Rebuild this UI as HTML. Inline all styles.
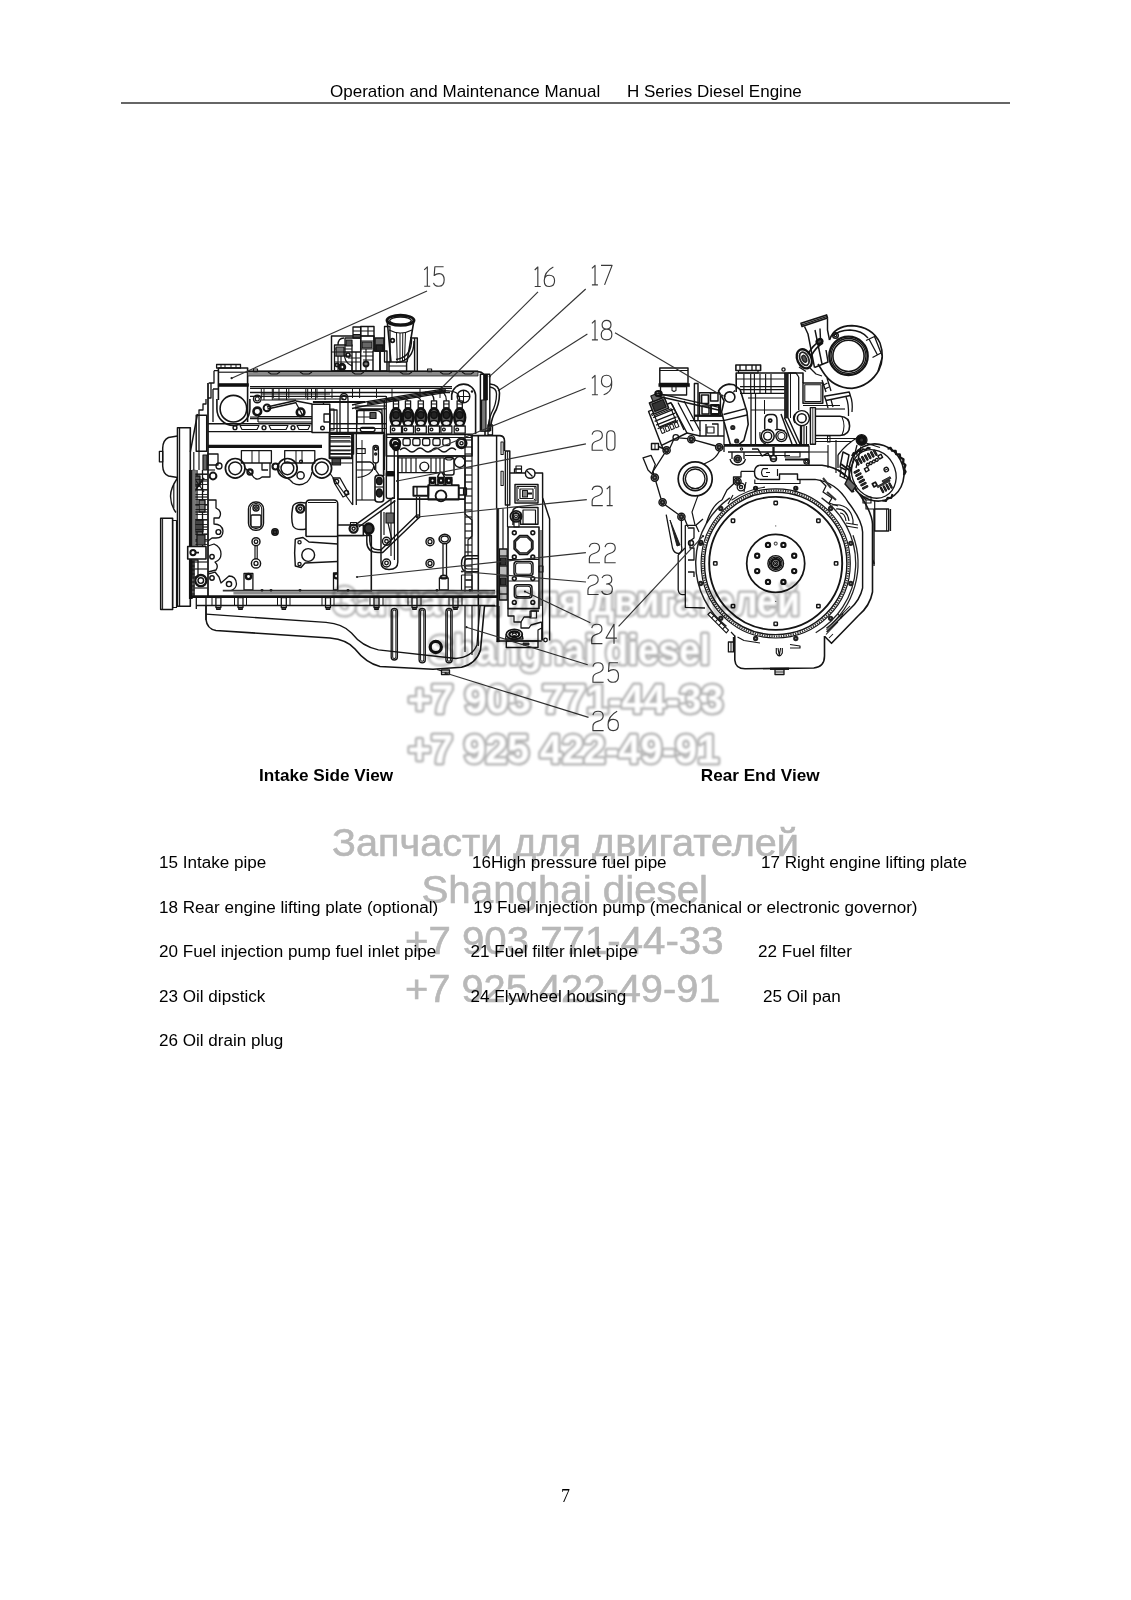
<!DOCTYPE html>
<html><head><meta charset="utf-8">
<style>
html,body{margin:0;padding:0;background:#fff;}
body{width:1131px;height:1600px;position:relative;overflow:hidden;font-family:"Liberation Sans",sans-serif;color:#000;}
.t{position:absolute;white-space:pre;font-size:17px;line-height:20px;}
.b{font-weight:bold;font-size:17.15px;}
.p{font-size:17.09px;}
#hl{position:absolute;left:121px;top:101.6px;width:889px;height:2px;background:#666;}
#art{position:absolute;left:0;top:0;}
.wm2{position:absolute;white-space:pre;color:#b4b4b4;font-size:40px;line-height:44px;}
</style></head><body>
<div class="t" id="h1" style="left:330px;top:81.6px;">Operation and Maintenance Manual</div>
<div class="t" id="h2" style="left:627px;top:81.6px;">H Series Diesel Engine</div>
<div id="hl"></div>

<svg id="art" width="1131" height="1600" viewBox="0 0 1131 1600" fill="none" stroke-linecap="butt" stroke-linejoin="round">
<rect x="177.5" y="427.7" width="12.8" height="178.5" rx="0" stroke="#141414" stroke-width="1.59" fill="none"/>
<line x1="179.6" y1="428.0" x2="179.6" y2="606.0" stroke="#141414" stroke-width="1.16"/>
<path d="M177.5,436 L168.5,437.5 Q163,440 162.7,448 L162.7,466 Q163,474 168.5,476 L177.5,477.5" stroke="#141414" stroke-width="1.45" fill="none" />
<rect x="159.4" y="451.3" width="3.3" height="10.5" rx="0" stroke="#141414" stroke-width="1.30" fill="none"/>
<path d="M177.5,478 Q170,489 170.6,497 Q171,506 176,512.5" stroke="#141414" stroke-width="1.45" fill="none" />
<line x1="173.8" y1="485.0" x2="173.8" y2="508.0" stroke="#141414" stroke-width="1.16"/>
<rect x="160.7" y="518.3" width="11.9" height="91.2" rx="0" stroke="#141414" stroke-width="1.59" fill="none"/>
<rect x="172.6" y="520.5" width="3.9" height="87.0" rx="0" stroke="#141414" stroke-width="1.16" fill="none"/>
<line x1="162.6" y1="519.0" x2="162.6" y2="609.0" stroke="#141414" stroke-width="1.01"/>
<line x1="190.8" y1="470.0" x2="190.8" y2="599.0" stroke="#111" stroke-width="3.77"/>
<rect x="196.2" y="415.2" width="10.5" height="36.1" rx="0" stroke="#141414" stroke-width="1.45" fill="none"/>
<line x1="190.3" y1="452.0" x2="197.5" y2="414.0" stroke="#141414" stroke-width="1.45"/>
<line x1="193.8" y1="452.0" x2="193.8" y2="470.0" stroke="#141414" stroke-width="1.16"/>
<line x1="199.0" y1="452.0" x2="199.0" y2="470.0" stroke="#141414" stroke-width="1.16"/>
<line x1="192.5" y1="474.0" x2="207.5" y2="474.0" stroke="#141414" stroke-width="1.16"/>
<line x1="192.5" y1="481.0" x2="207.5" y2="481.0" stroke="#141414" stroke-width="1.16"/>
<line x1="192.5" y1="490.0" x2="207.5" y2="490.0" stroke="#141414" stroke-width="1.16"/>
<line x1="192.5" y1="497.0" x2="207.5" y2="497.0" stroke="#141414" stroke-width="1.16"/>
<line x1="192.5" y1="505.0" x2="207.5" y2="505.0" stroke="#141414" stroke-width="1.16"/>
<line x1="192.5" y1="512.0" x2="207.5" y2="512.0" stroke="#141414" stroke-width="1.16"/>
<line x1="192.5" y1="520.0" x2="207.5" y2="520.0" stroke="#141414" stroke-width="1.16"/>
<line x1="192.5" y1="527.0" x2="207.5" y2="527.0" stroke="#141414" stroke-width="1.16"/>
<line x1="192.5" y1="534.0" x2="207.5" y2="534.0" stroke="#141414" stroke-width="1.16"/>
<line x1="192.5" y1="541.0" x2="207.5" y2="541.0" stroke="#141414" stroke-width="1.16"/>
<line x1="192.5" y1="562.0" x2="207.5" y2="562.0" stroke="#141414" stroke-width="1.16"/>
<line x1="192.5" y1="569.0" x2="207.5" y2="569.0" stroke="#141414" stroke-width="1.16"/>
<line x1="192.5" y1="588.0" x2="207.5" y2="588.0" stroke="#141414" stroke-width="1.16"/>
<line x1="197.0" y1="470.0" x2="197.0" y2="546.0" stroke="#141414" stroke-width="1.30"/>
<line x1="202.5" y1="470.0" x2="202.5" y2="546.0" stroke="#141414" stroke-width="1.30"/>
<rect x="194.0" y="476.0" width="6.0" height="10.0" rx="0" stroke="#141414" stroke-width="1.30" fill="#555"/>
<rect x="199.0" y="500.0" width="6.0" height="12.0" rx="0" stroke="#141414" stroke-width="1.30" fill="#777"/>
<rect x="195.0" y="520.0" width="8.0" height="12.0" rx="0" stroke="#141414" stroke-width="1.30" fill="#444"/>
<rect x="193.0" y="560.0" width="5.0" height="17.0" rx="0" stroke="#141414" stroke-width="1.30" fill="none"/>
<line x1="194.0" y1="492.0" x2="204.0" y2="478.0" stroke="#141414" stroke-width="1.74"/>
<line x1="194.0" y1="478.0" x2="204.0" y2="492.0" stroke="#141414" stroke-width="1.16"/>
<rect x="187.7" y="546.5" width="18.3" height="12.5" rx="0" stroke="#141414" stroke-width="1.59" fill="#fff"/>
<circle cx="193.0" cy="552.6" r="2.6" stroke="#141414" stroke-width="2.03" fill="none"/>
<line x1="195.0" y1="552.6" x2="199.0" y2="552.6" stroke="#141414" stroke-width="1.74"/>
<circle cx="200.8" cy="580.6" r="5.6" stroke="#141414" stroke-width="2.32" fill="none"/>
<circle cx="200.8" cy="580.6" r="2.8" stroke="#141414" stroke-width="1.45" fill="none"/>
<line x1="194.0" y1="560.0" x2="194.0" y2="596.0" stroke="#333" stroke-width="1.74"/>
<rect x="192.0" y="470.0" width="3.5" height="76.0" rx="0" stroke="#222" stroke-width="0.43" fill="#777"/>
<line x1="195.5" y1="474.5" x2="207.5" y2="474.5" stroke="#141414" stroke-width="0.87"/>
<line x1="195.5" y1="479.5" x2="207.5" y2="479.5" stroke="#141414" stroke-width="0.87"/>
<line x1="195.5" y1="484.5" x2="207.5" y2="484.5" stroke="#141414" stroke-width="0.87"/>
<line x1="195.5" y1="489.5" x2="207.5" y2="489.5" stroke="#141414" stroke-width="0.87"/>
<line x1="195.5" y1="494.5" x2="207.5" y2="494.5" stroke="#141414" stroke-width="0.87"/>
<line x1="195.5" y1="499.5" x2="207.5" y2="499.5" stroke="#141414" stroke-width="0.87"/>
<line x1="195.5" y1="504.5" x2="207.5" y2="504.5" stroke="#141414" stroke-width="0.87"/>
<line x1="195.5" y1="509.5" x2="207.5" y2="509.5" stroke="#141414" stroke-width="0.87"/>
<line x1="195.5" y1="514.5" x2="207.5" y2="514.5" stroke="#141414" stroke-width="0.87"/>
<line x1="195.5" y1="519.5" x2="207.5" y2="519.5" stroke="#141414" stroke-width="0.87"/>
<line x1="195.5" y1="524.5" x2="207.5" y2="524.5" stroke="#141414" stroke-width="0.87"/>
<line x1="195.5" y1="529.5" x2="207.5" y2="529.5" stroke="#141414" stroke-width="0.87"/>
<line x1="195.5" y1="534.5" x2="207.5" y2="534.5" stroke="#141414" stroke-width="0.87"/>
<line x1="195.5" y1="539.5" x2="207.5" y2="539.5" stroke="#141414" stroke-width="0.87"/>
<line x1="195.5" y1="544.5" x2="207.5" y2="544.5" stroke="#141414" stroke-width="0.87"/>
<rect x="203.0" y="455.0" width="4.0" height="15.0" rx="0" stroke="#141414" stroke-width="1.16" fill="#666"/>
<rect x="197.0" y="535.0" width="8.0" height="10.0" rx="0" stroke="#141414" stroke-width="1.16" fill="#555"/>
<line x1="192.0" y1="562.0" x2="194.5" y2="562.0" stroke="#141414" stroke-width="1.16"/>
<line x1="192.0" y1="566.0" x2="194.5" y2="566.0" stroke="#141414" stroke-width="1.16"/>
<line x1="192.0" y1="570.0" x2="194.5" y2="570.0" stroke="#141414" stroke-width="1.16"/>
<line x1="192.0" y1="574.0" x2="194.5" y2="574.0" stroke="#141414" stroke-width="1.16"/>
<line x1="192.0" y1="578.0" x2="194.5" y2="578.0" stroke="#141414" stroke-width="1.16"/>
<line x1="192.0" y1="582.0" x2="194.5" y2="582.0" stroke="#141414" stroke-width="1.16"/>
<line x1="192.0" y1="586.0" x2="194.5" y2="586.0" stroke="#141414" stroke-width="1.16"/>
<line x1="192.0" y1="590.0" x2="194.5" y2="590.0" stroke="#141414" stroke-width="1.16"/>
<line x1="192.0" y1="594.0" x2="194.5" y2="594.0" stroke="#141414" stroke-width="1.16"/>
<line x1="208.0" y1="383.0" x2="208.0" y2="596.5" stroke="#141414" stroke-width="1.74"/>
<line x1="208.0" y1="423.8" x2="386.0" y2="423.8" stroke="#141414" stroke-width="1.59"/>
<line x1="208.0" y1="431.7" x2="312.0" y2="431.7" stroke="#141414" stroke-width="1.30"/>
<line x1="208.0" y1="445.9" x2="322.0" y2="445.9" stroke="#141414" stroke-width="2.32"/>
<line x1="208.0" y1="447.6" x2="322.0" y2="447.6" stroke="#141414" stroke-width="1.01"/>
<line x1="258.0" y1="416.7" x2="312.0" y2="416.7" stroke="#141414" stroke-width="1.16"/>
<line x1="258.0" y1="422.0" x2="312.0" y2="422.0" stroke="#141414" stroke-width="1.16"/>
<circle cx="235.0" cy="427.7" r="1.9" stroke="#141414" stroke-width="1.45" fill="none"/>
<circle cx="264.0" cy="427.7" r="1.9" stroke="#141414" stroke-width="1.45" fill="none"/>
<circle cx="293.0" cy="427.7" r="1.9" stroke="#141414" stroke-width="1.45" fill="none"/>
<path d="M240,425.5 L259,425.5 L257,429.5 L242,429.5Z" stroke="#141414" stroke-width="1.16" fill="none" />
<path d="M269,425.5 L288,425.5 L286,429.5 L271,429.5Z" stroke="#141414" stroke-width="1.16" fill="none" />
<path d="M297,425.5 L310,425.5 L308,429.5 L299,429.5Z" stroke="#141414" stroke-width="1.16" fill="none" />
<circle cx="257.3" cy="399.0" r="3.8" stroke="#141414" stroke-width="1.45" fill="none"/>
<circle cx="257.3" cy="399.0" r="2.0" stroke="#141414" stroke-width="1.16" fill="none"/>
<circle cx="257.3" cy="411.4" r="3.8" stroke="#141414" stroke-width="2.61" fill="none"/>
<circle cx="267.0" cy="407.9" r="3.4" stroke="#141414" stroke-width="1.89" fill="none"/>
<line x1="267.0" y1="407.0" x2="296.0" y2="400.5" stroke="#141414" stroke-width="1.45"/>
<line x1="267.5" y1="409.0" x2="296.5" y2="402.5" stroke="#141414" stroke-width="1.45"/>
<circle cx="300.6" cy="412.3" r="3.8" stroke="#141414" stroke-width="2.61" fill="none"/>
<path d="M296,401 L312,404 M296,403 L303,416" stroke="#141414" stroke-width="1.30" fill="none" />
<line x1="272.3" y1="388.5" x2="272.3" y2="400.0" stroke="#141414" stroke-width="1.01"/>
<line x1="286.5" y1="388.5" x2="286.5" y2="400.0" stroke="#141414" stroke-width="1.01"/>
<line x1="307.7" y1="388.5" x2="307.7" y2="400.0" stroke="#141414" stroke-width="1.01"/>
<line x1="315.6" y1="388.5" x2="315.6" y2="400.0" stroke="#141414" stroke-width="1.01"/>
<line x1="264.0" y1="388.5" x2="264.0" y2="400.0" stroke="#141414" stroke-width="1.01"/>
<line x1="279.0" y1="388.5" x2="279.0" y2="400.0" stroke="#141414" stroke-width="1.01"/>
<line x1="325.0" y1="388.5" x2="325.0" y2="400.0" stroke="#141414" stroke-width="1.01"/>
<line x1="262.0" y1="394.0" x2="330.0" y2="394.0" stroke="#141414" stroke-width="1.01"/>
<line x1="262.0" y1="400.0" x2="296.0" y2="400.0" stroke="#141414" stroke-width="1.01"/>
<path d="M250,417 L258,417 L258,422" stroke="#141414" stroke-width="1.16" fill="none" />
<line x1="250.0" y1="418.5" x2="312.0" y2="418.5" stroke="#141414" stroke-width="1.30"/>
<line x1="261.3" y1="388.5" x2="261.3" y2="398.0" stroke="#141414" stroke-width="1.01"/>
<line x1="273.3" y1="388.5" x2="273.3" y2="398.0" stroke="#141414" stroke-width="1.01"/>
<line x1="288.8" y1="388.5" x2="288.8" y2="398.0" stroke="#141414" stroke-width="1.01"/>
<line x1="305.8" y1="388.5" x2="305.8" y2="398.0" stroke="#141414" stroke-width="1.01"/>
<line x1="311.5" y1="388.5" x2="311.5" y2="398.0" stroke="#141414" stroke-width="1.01"/>
<line x1="317.0" y1="388.5" x2="317.0" y2="398.0" stroke="#141414" stroke-width="1.01"/>
<line x1="332.0" y1="388.5" x2="332.0" y2="398.0" stroke="#141414" stroke-width="1.01"/>
<line x1="352.5" y1="388.5" x2="352.5" y2="398.0" stroke="#141414" stroke-width="1.01"/>
<line x1="359.6" y1="388.5" x2="359.6" y2="398.0" stroke="#141414" stroke-width="1.01"/>
<line x1="376.5" y1="388.5" x2="376.5" y2="398.0" stroke="#141414" stroke-width="1.01"/>
<line x1="392.0" y1="388.5" x2="392.0" y2="398.0" stroke="#141414" stroke-width="1.01"/>
<line x1="420.0" y1="388.5" x2="420.0" y2="398.0" stroke="#141414" stroke-width="1.01"/>
<line x1="440.0" y1="388.5" x2="440.0" y2="398.0" stroke="#141414" stroke-width="1.01"/>
<line x1="250.0" y1="392.4" x2="450.0" y2="392.4" stroke="#141414" stroke-width="1.45"/>
<line x1="250.0" y1="396.4" x2="386.0" y2="396.4" stroke="#141414" stroke-width="1.30"/>
<line x1="273.0" y1="399.0" x2="344.0" y2="399.0" stroke="#141414" stroke-width="1.16"/>
<line x1="312.9" y1="402.0" x2="365.2" y2="402.0" stroke="#141414" stroke-width="2.17"/>
<line x1="329.9" y1="433.0" x2="385.0" y2="433.0" stroke="#141414" stroke-width="2.32"/>
<line x1="329.9" y1="436.6" x2="350.4" y2="436.6" stroke="#141414" stroke-width="1.16"/>
<line x1="329.9" y1="440.8" x2="350.4" y2="440.8" stroke="#141414" stroke-width="1.16"/>
<line x1="329.9" y1="446.5" x2="350.4" y2="446.5" stroke="#141414" stroke-width="1.16"/>
<line x1="329.9" y1="450.7" x2="350.4" y2="450.7" stroke="#141414" stroke-width="1.16"/>
<line x1="329.9" y1="453.6" x2="350.4" y2="453.6" stroke="#141414" stroke-width="1.16"/>
<line x1="329.9" y1="457.0" x2="350.4" y2="457.0" stroke="#141414" stroke-width="1.16"/>
<rect x="356.7" y="448.6" width="8.5" height="4.9" rx="0" stroke="#141414" stroke-width="1.16" fill="none"/>
<path d="M356.7,432.3 L356.7,410.4 L376,410.4 Q382.2,411 382.2,417 L382.2,432.3" stroke="#141414" stroke-width="1.45" fill="none" />
<rect x="360.3" y="427.4" width="14.7" height="4.2" rx="2" stroke="#141414" stroke-width="1.30" fill="none"/>
<line x1="384.3" y1="400.0" x2="384.3" y2="470.0" stroke="#141414" stroke-width="1.30"/>
<path d="M323.5,402 L323.5,410 L337,410 L337,432.3" stroke="#141414" stroke-width="1.30" fill="none" />
<rect x="312.0" y="404.3" width="17.8" height="28.3" rx="0" stroke="#141414" stroke-width="1.45" fill="#fff"/>
<rect x="324.0" y="414.0" width="6.0" height="8.0" rx="0" stroke="#141414" stroke-width="1.30" fill="none"/>
<circle cx="322.5" cy="428.0" r="1.8" stroke="#141414" stroke-width="1.45" fill="none"/>
<rect x="329.8" y="409.0" width="4.2" height="21.0" rx="0" stroke="#141414" stroke-width="1.16" fill="none"/>
<rect x="216.6" y="364.5" width="23.9" height="3.5" rx="0" stroke="#141414" stroke-width="1.30" fill="none"/>
<line x1="221.0" y1="364.5" x2="221.0" y2="368.0" stroke="#141414" stroke-width="1.01"/>
<line x1="225.0" y1="364.5" x2="225.0" y2="368.0" stroke="#141414" stroke-width="1.01"/>
<line x1="231.0" y1="364.5" x2="231.0" y2="368.0" stroke="#141414" stroke-width="1.01"/>
<line x1="236.0" y1="364.5" x2="236.0" y2="368.0" stroke="#141414" stroke-width="1.01"/>
<path d="M218.4,368 L247.6,368 L247.6,422 M218.4,368 L218.4,400" stroke="#141414" stroke-width="1.59" fill="none" />
<rect x="218.4" y="383.6" width="30.0" height="2.8" rx="0" stroke="#111" stroke-width="0.72" fill="#111"/>
<line x1="218.4" y1="372.2" x2="247.6" y2="372.2" stroke="#141414" stroke-width="1.16"/>
<circle cx="233.4" cy="408.7" r="13.3" stroke="#141414" stroke-width="1.59" fill="none"/>
<path d="M216.9,399 L216.9,409 A16.5,16.5 0 0 0 249.9,409 L249.9,399" stroke="#141414" stroke-width="1.59" fill="none" />
<path d="M214,370.7 L218.4,370.7 M214,370.7 L214,383 L208.7,383 M211,383 L211,398 L208,398 M213,389 L218,389 M213,389 L213,422" stroke="#141414" stroke-width="1.30" fill="none" />
<path d="M206,399 L206,404 L203,404 L203,410 L199,410 L199,452" stroke="#141414" stroke-width="1.30" fill="none" />
<rect x="247.6" y="371.2" width="230.4" height="4.8" rx="0" stroke="#141414" stroke-width="0.72" fill="#8a8a8a"/>
<line x1="247.6" y1="371.2" x2="478.0" y2="371.2" stroke="#141414" stroke-width="1.45"/>
<line x1="250.0" y1="386.6" x2="452.0" y2="386.6" stroke="#141414" stroke-width="1.45"/>
<line x1="250.0" y1="388.4" x2="452.0" y2="388.4" stroke="#141414" stroke-width="1.16"/>
<path d="M478,371.6 Q485,372 485,380 L485,435" stroke="#141414" stroke-width="1.59" fill="none" />
<rect x="253.5" y="369.0" width="4.0" height="2.6" rx="0" stroke="#141414" stroke-width="1.16" fill="none"/>
<rect x="427.6" y="369.0" width="4.0" height="2.6" rx="0" stroke="#141414" stroke-width="1.16" fill="none"/>
<path d="M268,372 l3,2 l6,0 l3,-2" stroke="#141414" stroke-width="1.01" fill="none" />
<path d="M300,372 l3,2 l6,0 l3,-2" stroke="#141414" stroke-width="1.01" fill="none" />
<path d="M352,372 l3,2 l6,0 l3,-2" stroke="#141414" stroke-width="1.01" fill="none" />
<path d="M400,372 l3,2 l6,0 l3,-2" stroke="#141414" stroke-width="1.01" fill="none" />
<path d="M440,372 l3,2 l6,0 l3,-2" stroke="#141414" stroke-width="1.01" fill="none" />
<path d="M462,372 l3,2 l6,0 l3,-2" stroke="#141414" stroke-width="1.01" fill="none" />
<rect x="331.5" y="336.0" width="42.5" height="35.0" rx="0" stroke="#141414" stroke-width="1.45" fill="none"/>
<rect x="334.5" y="345.0" width="17.5" height="26.0" rx="0" stroke="#141414" stroke-width="1.30" fill="none"/>
<rect x="345.0" y="338.0" width="15.7" height="14.0" rx="0" stroke="#141414" stroke-width="1.30" fill="none"/>
<rect x="360.7" y="326.5" width="13.3" height="44.5" rx="0" stroke="#141414" stroke-width="1.45" fill="none"/>
<line x1="360.7" y1="331.0" x2="374.0" y2="331.0" stroke="#141414" stroke-width="1.01"/>
<line x1="360.7" y1="336.0" x2="374.0" y2="336.0" stroke="#141414" stroke-width="1.01"/>
<line x1="360.7" y1="341.0" x2="374.0" y2="341.0" stroke="#141414" stroke-width="1.01"/>
<line x1="360.7" y1="349.0" x2="374.0" y2="349.0" stroke="#141414" stroke-width="1.01"/>
<line x1="360.7" y1="356.0" x2="374.0" y2="356.0" stroke="#141414" stroke-width="1.01"/>
<line x1="334.5" y1="349.0" x2="352.0" y2="349.0" stroke="#141414" stroke-width="1.01"/>
<line x1="334.5" y1="356.0" x2="352.0" y2="356.0" stroke="#141414" stroke-width="1.01"/>
<line x1="334.5" y1="362.0" x2="360.0" y2="362.0" stroke="#141414" stroke-width="1.01"/>
<path d="M345,352 Q343,362 352,366" stroke="#141414" stroke-width="1.30" fill="none" />
<line x1="356.0" y1="352.0" x2="356.0" y2="371.0" stroke="#141414" stroke-width="1.16"/>
<line x1="366.0" y1="349.0" x2="366.0" y2="371.0" stroke="#141414" stroke-width="1.16"/>
<circle cx="342.0" cy="367.0" r="2.8" stroke="#141414" stroke-width="2.90" fill="none"/>
<circle cx="348.0" cy="355.0" r="2.0" stroke="#141414" stroke-width="1.74" fill="none"/>
<rect x="373.0" y="351.0" width="7.0" height="20.0" rx="0" stroke="#141414" stroke-width="1.45" fill="#fff"/>
<rect x="380.0" y="351.0" width="7.0" height="20.0" rx="0" stroke="#141414" stroke-width="1.45" fill="none"/>
<rect x="375.0" y="338.0" width="9.0" height="13.0" rx="0" stroke="#141414" stroke-width="1.45" fill="#666"/>
<rect x="376.0" y="345.0" width="7.0" height="6.0" rx="0" stroke="#141414" stroke-width="1.45" fill="#222"/>
<rect x="384.5" y="326.5" width="5.5" height="35.5" rx="0" stroke="#141414" stroke-width="1.30" fill="none"/>
<ellipse cx="400.5" cy="320.3" rx="13.5" ry="5.0" stroke="#111" stroke-width="2.90" fill="none"/>
<ellipse cx="400.5" cy="320.6" rx="10.8" ry="3.6" stroke="#141414" stroke-width="1.30" fill="none"/>
<path d="M387.3,322 L391,362 M413.7,322 L407,362" stroke="#141414" stroke-width="1.59" fill="none" />
<path d="M389,330 Q400.5,336 412,330" stroke="#141414" stroke-width="1.16" fill="none" />
<path d="M396.5,332 L397.2,361 M400,333 L400,361 M402.8,333 L402.5,361 M405.5,332 L404.5,361" stroke="#141414" stroke-width="1.01" fill="none" />
<circle cx="392.5" cy="340.5" r="1.8" stroke="#141414" stroke-width="1.74" fill="none"/>
<rect x="389.0" y="362.0" width="17.6" height="9.5" rx="0" stroke="#141414" stroke-width="1.45" fill="none"/>
<line x1="389.0" y1="366.0" x2="406.6" y2="366.0" stroke="#141414" stroke-width="1.01"/>
<path d="M410,338 L417.3,338 L417.3,371.5 M414.6,338 L414.6,371.5" stroke="#141414" stroke-width="1.45" fill="none" />
<path d="M411.5,339 Q412,357 396,359.5 M414,341 Q414,361 396,362.5" stroke="#141414" stroke-width="1.45" fill="none" />
<rect x="336.0" y="347.0" width="8.0" height="9.0" rx="0" stroke="#141414" stroke-width="1.16" fill="#777"/>
<rect x="346.0" y="340.0" width="6.0" height="6.0" rx="0" stroke="#141414" stroke-width="1.16" fill="#555"/>
<rect x="362.0" y="342.0" width="10.0" height="6.0" rx="0" stroke="#141414" stroke-width="1.16" fill="#666"/>
<path d="M332,352 L345,352 M338,356 L338,371 M341,356 L341,371 M348,358 L360,358 M352,362 L352,371 M363,352 L373,352 M363,360 L373,360 M368,326.5 L368,336" stroke="#141414" stroke-width="1.16" fill="none" />
<circle cx="366.0" cy="364.0" r="2.4" stroke="#141414" stroke-width="2.03" fill="none"/>
<circle cx="337.0" cy="365.0" r="1.6" stroke="#141414" stroke-width="1.74" fill="none"/>
<rect x="353.0" y="327.0" width="7.7" height="11.0" rx="0" stroke="#141414" stroke-width="1.30" fill="none"/>
<line x1="353.0" y1="331.0" x2="360.7" y2="331.0" stroke="#141414" stroke-width="1.01"/>
<line x1="353.0" y1="334.5" x2="360.7" y2="334.5" stroke="#141414" stroke-width="1.01"/>
<path d="M344,338 Q338,338 338,345" stroke="#141414" stroke-width="1.30" fill="none" />
<rect x="393.4" y="400.8" width="5.2" height="7.2" rx="0" stroke="#141414" stroke-width="1.30" fill="#fff"/>
<line x1="393.4" y1="404.0" x2="398.6" y2="404.0" stroke="#141414" stroke-width="1.01"/>
<ellipse cx="396.0" cy="417.5" rx="5.4" ry="9.0" stroke="#111" stroke-width="2.61" fill="#5a5a5a"/>
<ellipse cx="396.0" cy="415.0" rx="3.2" ry="3.4" stroke="#111" stroke-width="1.45" fill="#222"/>
<ellipse cx="396.0" cy="423.0" rx="3.8" ry="2.6" stroke="#111" stroke-width="1.45" fill="#eee"/>
<rect x="390.5" y="426.0" width="11.0" height="7.2" rx="0" stroke="#141414" stroke-width="1.30" fill="#fff"/>
<circle cx="393.5" cy="429.5" r="1.4" stroke="#141414" stroke-width="1.30" fill="none"/>
<rect x="405.4" y="400.8" width="5.2" height="7.2" rx="0" stroke="#141414" stroke-width="1.30" fill="#fff"/>
<line x1="405.4" y1="404.0" x2="410.6" y2="404.0" stroke="#141414" stroke-width="1.01"/>
<ellipse cx="408.0" cy="417.5" rx="5.4" ry="9.0" stroke="#111" stroke-width="2.61" fill="#5a5a5a"/>
<ellipse cx="408.0" cy="415.0" rx="3.2" ry="3.4" stroke="#111" stroke-width="1.45" fill="#222"/>
<ellipse cx="408.0" cy="423.0" rx="3.8" ry="2.6" stroke="#111" stroke-width="1.45" fill="#eee"/>
<rect x="402.5" y="426.0" width="11.0" height="7.2" rx="0" stroke="#141414" stroke-width="1.30" fill="#fff"/>
<circle cx="405.5" cy="429.5" r="1.4" stroke="#141414" stroke-width="1.30" fill="none"/>
<rect x="418.2" y="400.8" width="5.2" height="7.2" rx="0" stroke="#141414" stroke-width="1.30" fill="#fff"/>
<line x1="418.2" y1="404.0" x2="423.4" y2="404.0" stroke="#141414" stroke-width="1.01"/>
<ellipse cx="420.8" cy="417.5" rx="5.4" ry="9.0" stroke="#111" stroke-width="2.61" fill="#5a5a5a"/>
<ellipse cx="420.8" cy="415.0" rx="3.2" ry="3.4" stroke="#111" stroke-width="1.45" fill="#222"/>
<ellipse cx="420.8" cy="423.0" rx="3.8" ry="2.6" stroke="#111" stroke-width="1.45" fill="#eee"/>
<rect x="415.3" y="426.0" width="11.0" height="7.2" rx="0" stroke="#141414" stroke-width="1.30" fill="#fff"/>
<circle cx="418.3" cy="429.5" r="1.4" stroke="#141414" stroke-width="1.30" fill="none"/>
<rect x="431.4" y="400.8" width="5.2" height="7.2" rx="0" stroke="#141414" stroke-width="1.30" fill="#fff"/>
<line x1="431.4" y1="404.0" x2="436.6" y2="404.0" stroke="#141414" stroke-width="1.01"/>
<ellipse cx="434.0" cy="417.5" rx="5.4" ry="9.0" stroke="#111" stroke-width="2.61" fill="#5a5a5a"/>
<ellipse cx="434.0" cy="415.0" rx="3.2" ry="3.4" stroke="#111" stroke-width="1.45" fill="#222"/>
<ellipse cx="434.0" cy="423.0" rx="3.8" ry="2.6" stroke="#111" stroke-width="1.45" fill="#eee"/>
<rect x="428.5" y="426.0" width="11.0" height="7.2" rx="0" stroke="#141414" stroke-width="1.30" fill="#fff"/>
<circle cx="431.5" cy="429.5" r="1.4" stroke="#141414" stroke-width="1.30" fill="none"/>
<rect x="443.8" y="400.8" width="5.2" height="7.2" rx="0" stroke="#141414" stroke-width="1.30" fill="#fff"/>
<line x1="443.8" y1="404.0" x2="449.0" y2="404.0" stroke="#141414" stroke-width="1.01"/>
<ellipse cx="446.4" cy="417.5" rx="5.4" ry="9.0" stroke="#111" stroke-width="2.61" fill="#5a5a5a"/>
<ellipse cx="446.4" cy="415.0" rx="3.2" ry="3.4" stroke="#111" stroke-width="1.45" fill="#222"/>
<ellipse cx="446.4" cy="423.0" rx="3.8" ry="2.6" stroke="#111" stroke-width="1.45" fill="#eee"/>
<rect x="440.9" y="426.0" width="11.0" height="7.2" rx="0" stroke="#141414" stroke-width="1.30" fill="#fff"/>
<circle cx="443.9" cy="429.5" r="1.4" stroke="#141414" stroke-width="1.30" fill="none"/>
<rect x="457.1" y="400.8" width="5.2" height="7.2" rx="0" stroke="#141414" stroke-width="1.30" fill="#fff"/>
<line x1="457.1" y1="404.0" x2="462.3" y2="404.0" stroke="#141414" stroke-width="1.01"/>
<ellipse cx="459.7" cy="417.5" rx="5.4" ry="9.0" stroke="#111" stroke-width="2.61" fill="#5a5a5a"/>
<ellipse cx="459.7" cy="415.0" rx="3.2" ry="3.4" stroke="#111" stroke-width="1.45" fill="#222"/>
<ellipse cx="459.7" cy="423.0" rx="3.8" ry="2.6" stroke="#111" stroke-width="1.45" fill="#eee"/>
<rect x="454.2" y="426.0" width="11.0" height="7.2" rx="0" stroke="#141414" stroke-width="1.30" fill="#fff"/>
<circle cx="457.2" cy="429.5" r="1.4" stroke="#141414" stroke-width="1.30" fill="none"/>
<path d="M396,400.8 C396,401.6 393,398.6 387,398.6" stroke="#141414" stroke-width="1.30" fill="none" />
<path d="M408,400.8 C408,400.4 405,397.4 399,397.4" stroke="#141414" stroke-width="1.30" fill="none" />
<path d="M420.8,400.8 C420.8,399.1 417.8,396.1 411.8,396.1" stroke="#141414" stroke-width="1.30" fill="none" />
<path d="M434,400.8 C434,395.1 431,392.1 425,392.1" stroke="#141414" stroke-width="1.30" fill="none" />
<path d="M446.4,400.8 C446.4,393.8 443.4,390.8 437.4,390.8" stroke="#141414" stroke-width="1.30" fill="none" />
<path d="M459.7,400.8 C459.7,393.6 456.7,390.6 444,390.6" stroke="#141414" stroke-width="1.30" fill="none" />
<line x1="446.0" y1="388.6" x2="367.0" y2="401.6" stroke="#141414" stroke-width="1.16"/>
<line x1="446.0" y1="389.9" x2="367.0" y2="402.9" stroke="#141414" stroke-width="1.16"/>
<line x1="446.0" y1="391.1" x2="367.0" y2="404.1" stroke="#141414" stroke-width="1.16"/>
<line x1="446.0" y1="392.4" x2="367.0" y2="405.4" stroke="#141414" stroke-width="1.16"/>
<path d="M367,401.6 L352,405 M367,405.4 L352,408.5" stroke="#141414" stroke-width="1.30" fill="none" />
<path d="M340,434 L340,400 Q340,393.5 344,393.5 Q348,393.5 348,400 L348,434" stroke="#141414" stroke-width="1.30" fill="none" />
<circle cx="344.0" cy="397.5" r="2.2" stroke="#141414" stroke-width="1.30" fill="none"/>
<line x1="355.0" y1="406.0" x2="386.0" y2="406.0" stroke="#141414" stroke-width="1.16"/>
<line x1="355.0" y1="408.8" x2="386.0" y2="408.8" stroke="#141414" stroke-width="1.16"/>
<path d="M357,423.8 L357,413 Q357,409.6 361,409.6 L382,409.6 L382,423.8" stroke="#141414" stroke-width="1.30" fill="none" />
<rect x="370.0" y="412.5" width="6.0" height="6.0" rx="0" stroke="#141414" stroke-width="1.16" fill="#555"/>
<line x1="357.0" y1="417.0" x2="370.0" y2="417.0" stroke="#141414" stroke-width="1.01"/>
<line x1="364.0" y1="409.6" x2="364.0" y2="423.8" stroke="#141414" stroke-width="1.01"/>
<line x1="330.0" y1="428.5" x2="386.0" y2="428.5" stroke="#141414" stroke-width="1.16"/>
<line x1="386.3" y1="396.0" x2="386.3" y2="434.4" stroke="#141414" stroke-width="1.30"/>
<path d="M451.7,400 L451.7,395 A12,12 0 0 1 475.6,395 L475.6,434" stroke="#141414" stroke-width="1.59" fill="none" />
<circle cx="463.5" cy="396.5" r="6.3" stroke="#141414" stroke-width="1.45" fill="none"/>
<path d="M458,396.5 h11 M463.5,391 v11" stroke="#141414" stroke-width="1.01" fill="none" />
<circle cx="472.0" cy="391.5" r="1.2" stroke="none" stroke-width="0.00" fill="#111"/>
<rect x="480.4" y="374.3" width="9.4" height="56.7" rx="0" stroke="#141414" stroke-width="1.45" fill="#fff"/>
<rect x="483.6" y="375.0" width="3.8" height="25.0" rx="0" stroke="#111" stroke-width="0.87" fill="#111"/>
<rect x="481.5" y="400.0" width="4.5" height="31.0" rx="0" stroke="#141414" stroke-width="1.16" fill="#777"/>
<path d="M490,384 Q499.5,385 499.5,393 Q499.5,405 494,414 Q490.5,422 490.5,431" stroke="#141414" stroke-width="1.59" fill="none" />
<path d="M490,387 Q496.5,388 496.5,394 Q496.5,404 491.5,413 Q488,421 488,431" stroke="#141414" stroke-width="1.30" fill="none" />
<rect x="488.0" y="425.0" width="4.5" height="10.0" rx="0" stroke="#141414" stroke-width="1.30" fill="none"/>
<rect x="386.3" y="434.4" width="85.7" height="21.6" rx="0" stroke="#141414" stroke-width="1.59" fill="none"/>
<line x1="386.3" y1="437.5" x2="472.0" y2="437.5" stroke="#141414" stroke-width="1.16"/>
<rect x="403.0" y="438.5" width="7.2" height="7.0" rx="2" stroke="#141414" stroke-width="1.30" fill="none"/>
<rect x="412.8" y="438.5" width="7.2" height="7.0" rx="2" stroke="#141414" stroke-width="1.30" fill="none"/>
<rect x="422.6" y="438.5" width="7.2" height="7.0" rx="2" stroke="#141414" stroke-width="1.30" fill="none"/>
<rect x="432.9" y="438.5" width="7.2" height="7.0" rx="2" stroke="#141414" stroke-width="1.30" fill="none"/>
<rect x="442.8" y="438.5" width="7.2" height="7.0" rx="2" stroke="#141414" stroke-width="1.30" fill="none"/>
<circle cx="395.2" cy="443.2" r="4.6" stroke="#111" stroke-width="2.90" fill="none"/>
<circle cx="461.5" cy="443.2" r="4.6" stroke="#111" stroke-width="2.90" fill="none"/>
<circle cx="395.2" cy="443.2" r="1.6" stroke="#141414" stroke-width="1.45" fill="none"/>
<circle cx="461.5" cy="443.2" r="1.6" stroke="#141414" stroke-width="1.45" fill="none"/>
<path d="M400,450 q4,-4 8,0 q4,4 8,0 q4,-4 8,0 q4,4 8,0 q4,-4 8,0 q4,4 8,0 q4,-4 8,0" stroke="#141414" stroke-width="1.30" fill="none" />
<rect x="398.0" y="456.0" width="67.0" height="43.2" rx="0" stroke="#141414" stroke-width="1.45" fill="none"/>
<line x1="402.0" y1="458.0" x2="402.0" y2="472.5" stroke="#141414" stroke-width="1.16"/>
<line x1="406.0" y1="458.0" x2="406.0" y2="472.5" stroke="#141414" stroke-width="1.16"/>
<line x1="411.0" y1="458.0" x2="411.0" y2="472.5" stroke="#141414" stroke-width="1.16"/>
<line x1="416.0" y1="458.0" x2="416.0" y2="472.5" stroke="#141414" stroke-width="1.16"/>
<line x1="431.0" y1="458.0" x2="431.0" y2="472.5" stroke="#141414" stroke-width="1.16"/>
<line x1="436.0" y1="458.0" x2="436.0" y2="472.5" stroke="#141414" stroke-width="1.16"/>
<line x1="440.0" y1="458.0" x2="440.0" y2="472.5" stroke="#141414" stroke-width="1.16"/>
<line x1="398.0" y1="457.8" x2="444.0" y2="457.8" stroke="#141414" stroke-width="1.16"/>
<line x1="398.0" y1="472.7" x2="444.0" y2="472.7" stroke="#141414" stroke-width="1.30"/>
<circle cx="424.3" cy="466.5" r="4.4" stroke="#141414" stroke-width="1.45" fill="none"/>
<rect x="444.0" y="457.7" width="10.0" height="17.3" rx="2" stroke="#141414" stroke-width="1.45" fill="#fff"/>
<circle cx="459.7" cy="462.0" r="5.4" stroke="#141414" stroke-width="1.45" fill="none"/>
<ellipse cx="449.0" cy="458.5" rx="3.4" ry="1.5" stroke="#141414" stroke-width="1.16" fill="none"/>
<rect x="428.3" y="485.2" width="30.4" height="14.3" rx="0" stroke="#141414" stroke-width="1.89" fill="#fff"/>
<circle cx="441.0" cy="495.8" r="5.4" stroke="#141414" stroke-width="1.89" fill="#fff"/>
<rect x="413.4" y="486.6" width="14.9" height="9.2" rx="0" stroke="#141414" stroke-width="1.89" fill="none"/>
<rect x="458.7" y="488.0" width="7.7" height="7.0" rx="0" stroke="#141414" stroke-width="1.45" fill="none"/>
<line x1="417.0" y1="487.0" x2="417.0" y2="495.5" stroke="#141414" stroke-width="1.30"/>
<line x1="463.5" y1="488.0" x2="463.5" y2="495.0" stroke="#141414" stroke-width="1.16"/>
<rect x="429.5" y="477.5" width="6.0" height="7.7" rx="0" stroke="#141414" stroke-width="1.59" fill="#fff"/>
<circle cx="432.5" cy="480.5" r="2.3" stroke="#111" stroke-width="2.61" fill="none"/>
<rect x="438.0" y="477.5" width="6.0" height="7.7" rx="0" stroke="#141414" stroke-width="1.59" fill="#fff"/>
<circle cx="441.0" cy="480.5" r="2.3" stroke="#111" stroke-width="2.61" fill="none"/>
<rect x="445.8" y="477.5" width="6.0" height="7.7" rx="0" stroke="#141414" stroke-width="1.59" fill="#fff"/>
<circle cx="448.8" cy="480.5" r="2.3" stroke="#111" stroke-width="2.61" fill="none"/>
<path d="M437.5,477.5 Q441,467 444.5,477.5" stroke="#141414" stroke-width="1.74" fill="none" />
<path d="M373.8,466 Q372,476 357.5,477.4" stroke="#141414" stroke-width="1.30" fill="none" />
<path d="M356,462 L370,462 Q374.5,463 374.5,470" stroke="#141414" stroke-width="1.30" fill="none" />
<line x1="383.7" y1="434.4" x2="383.7" y2="476.0" stroke="#141414" stroke-width="1.74"/>
<line x1="386.5" y1="434.4" x2="386.5" y2="472.0" stroke="#141414" stroke-width="1.45"/>
<rect x="332.0" y="458.5" width="8.5" height="6.5" rx="0" stroke="#141414" stroke-width="1.16" fill="#444"/>
<rect x="329.5" y="433.5" width="22.5" height="24.8" rx="0" stroke="#141414" stroke-width="1.89" fill="none"/>
<line x1="465.0" y1="434.4" x2="465.0" y2="592.0" stroke="#141414" stroke-width="1.30"/>
<line x1="472.0" y1="434.4" x2="472.0" y2="592.0" stroke="#141414" stroke-width="1.16"/>
<line x1="465.0" y1="440.0" x2="472.0" y2="440.0" stroke="#141414" stroke-width="1.16"/>
<line x1="465.0" y1="447.0" x2="472.0" y2="447.0" stroke="#141414" stroke-width="1.16"/>
<line x1="465.0" y1="454.0" x2="472.0" y2="454.0" stroke="#141414" stroke-width="1.16"/>
<line x1="465.0" y1="461.0" x2="472.0" y2="461.0" stroke="#141414" stroke-width="1.16"/>
<line x1="465.0" y1="468.0" x2="472.0" y2="468.0" stroke="#141414" stroke-width="1.16"/>
<line x1="465.0" y1="475.0" x2="472.0" y2="475.0" stroke="#141414" stroke-width="1.16"/>
<line x1="465.0" y1="482.0" x2="472.0" y2="482.0" stroke="#141414" stroke-width="1.16"/>
<line x1="465.0" y1="489.0" x2="472.0" y2="489.0" stroke="#141414" stroke-width="1.16"/>
<line x1="465.0" y1="496.0" x2="472.0" y2="496.0" stroke="#141414" stroke-width="1.16"/>
<line x1="465.0" y1="503.0" x2="472.0" y2="503.0" stroke="#141414" stroke-width="1.16"/>
<line x1="465.0" y1="510.0" x2="472.0" y2="510.0" stroke="#141414" stroke-width="1.16"/>
<line x1="465.0" y1="517.0" x2="472.0" y2="517.0" stroke="#141414" stroke-width="1.16"/>
<line x1="465.0" y1="524.0" x2="472.0" y2="524.0" stroke="#141414" stroke-width="1.16"/>
<line x1="465.0" y1="531.0" x2="472.0" y2="531.0" stroke="#141414" stroke-width="1.16"/>
<line x1="465.0" y1="538.0" x2="472.0" y2="538.0" stroke="#141414" stroke-width="1.16"/>
<line x1="465.0" y1="545.0" x2="472.0" y2="545.0" stroke="#141414" stroke-width="1.16"/>
<line x1="465.0" y1="552.0" x2="472.0" y2="552.0" stroke="#141414" stroke-width="1.16"/>
<line x1="465.0" y1="559.0" x2="472.0" y2="559.0" stroke="#141414" stroke-width="1.16"/>
<line x1="465.0" y1="566.0" x2="472.0" y2="566.0" stroke="#141414" stroke-width="1.16"/>
<line x1="465.0" y1="573.0" x2="472.0" y2="573.0" stroke="#141414" stroke-width="1.16"/>
<line x1="465.0" y1="580.0" x2="472.0" y2="580.0" stroke="#141414" stroke-width="1.16"/>
<line x1="465.0" y1="587.0" x2="472.0" y2="587.0" stroke="#141414" stroke-width="1.16"/>
<line x1="478.3" y1="435.6" x2="478.3" y2="606.0" stroke="#141414" stroke-width="1.59"/>
<path d="M394.3,449 L394.3,499 M397.8,449 L397.8,499" stroke="#141414" stroke-width="1.30" fill="none" />
<circle cx="396.0" cy="446.5" r="3.2" stroke="#111" stroke-width="2.90" fill="none"/>
<rect x="375.0" y="475.4" width="8.7" height="26.6" rx="3" stroke="#111" stroke-width="1.59" fill="#fff"/>
<ellipse cx="379.3" cy="481.0" rx="2.8" ry="3.6" stroke="#111" stroke-width="1.45" fill="#222"/>
<ellipse cx="379.3" cy="493.0" rx="3.0" ry="4.0" stroke="#111" stroke-width="1.45" fill="#222"/>
<line x1="375.0" y1="487.0" x2="383.7" y2="487.0" stroke="#141414" stroke-width="1.16"/>
<rect x="386.3" y="471.8" width="8.0" height="26.6" rx="2" stroke="#141414" stroke-width="1.45" fill="#fff"/>
<rect x="386.3" y="471.8" width="8.0" height="4.2" rx="0" stroke="#111" stroke-width="0.87" fill="#111"/>
<rect x="373.0" y="445.3" width="5.4" height="17.7" rx="2.5" stroke="#141414" stroke-width="1.30" fill="#fff"/>
<circle cx="375.7" cy="448.5" r="1.6" stroke="#141414" stroke-width="1.74" fill="none"/>
<circle cx="375.7" cy="454.0" r="1.0" stroke="#141414" stroke-width="1.45" fill="none"/>
<path d="M375.7,463 L375.7,470 L379,475" stroke="#141414" stroke-width="1.30" fill="none" />
<line x1="352.7" y1="434.0" x2="352.7" y2="505.0" stroke="#141414" stroke-width="1.30"/>
<line x1="356.3" y1="434.0" x2="356.3" y2="505.0" stroke="#141414" stroke-width="1.30"/>
<line x1="362.0" y1="440.0" x2="362.0" y2="500.0" stroke="#141414" stroke-width="1.01"/>
<rect x="329.7" y="434.4" width="23.9" height="19.6" rx="0" stroke="#141414" stroke-width="1.30" fill="none"/>
<line x1="329.7" y1="438.0" x2="353.6" y2="438.0" stroke="#141414" stroke-width="1.01"/>
<line x1="329.7" y1="442.0" x2="353.6" y2="442.0" stroke="#141414" stroke-width="1.01"/>
<line x1="329.7" y1="446.0" x2="353.6" y2="446.0" stroke="#141414" stroke-width="1.01"/>
<line x1="329.7" y1="450.0" x2="353.6" y2="450.0" stroke="#141414" stroke-width="1.01"/>
<line x1="356.0" y1="500.0" x2="375.0" y2="500.0" stroke="#141414" stroke-width="1.16"/>
<line x1="356.3" y1="470.0" x2="373.0" y2="470.0" stroke="#141414" stroke-width="1.01"/>
<line x1="330.0" y1="463.0" x2="352.7" y2="463.0" stroke="#141414" stroke-width="1.01"/>
<path d="M333,478 L340,478 L349,494 L343,497 L335,484Z" stroke="#141414" stroke-width="1.30" fill="none" />
<circle cx="346.5" cy="492.5" r="2.0" stroke="#141414" stroke-width="1.30" fill="none"/>
<circle cx="336.5" cy="481.5" r="2.2" stroke="#141414" stroke-width="1.30" fill="none"/>
<line x1="329.0" y1="472.0" x2="352.7" y2="505.0" stroke="#141414" stroke-width="1.16"/>
<line x1="208.0" y1="446.2" x2="322.0" y2="446.2" stroke="#141414" stroke-width="2.03"/>
<circle cx="235.2" cy="468.3" r="9.8" stroke="#141414" stroke-width="1.74" fill="#fff"/>
<circle cx="235.2" cy="468.3" r="6.4" stroke="#141414" stroke-width="1.45" fill="none"/>
<circle cx="287.4" cy="468.3" r="9.8" stroke="#141414" stroke-width="1.74" fill="#fff"/>
<circle cx="287.4" cy="468.3" r="6.4" stroke="#141414" stroke-width="1.45" fill="none"/>
<circle cx="321.8" cy="468.3" r="9.8" stroke="#141414" stroke-width="1.74" fill="#fff"/>
<circle cx="321.8" cy="468.3" r="6.4" stroke="#141414" stroke-width="1.45" fill="none"/>
<rect x="241.4" y="450.6" width="30.0" height="12.4" rx="0" stroke="#141414" stroke-width="1.30" fill="none"/>
<line x1="252.0" y1="450.6" x2="252.0" y2="463.0" stroke="#141414" stroke-width="1.01"/>
<line x1="259.0" y1="450.6" x2="259.0" y2="463.0" stroke="#141414" stroke-width="1.01"/>
<rect x="284.7" y="450.6" width="30.1" height="12.4" rx="0" stroke="#141414" stroke-width="1.30" fill="none"/>
<line x1="296.0" y1="450.6" x2="296.0" y2="463.0" stroke="#141414" stroke-width="1.01"/>
<line x1="302.0" y1="450.6" x2="302.0" y2="463.0" stroke="#141414" stroke-width="1.01"/>
<path d="M245,468 L252,475 Q256,482 262,477 L270,477 L270,463 M262,463 L262,470 L268,470" stroke="#141414" stroke-width="1.30" fill="none" />
<path d="M278,468 Q282,476 290,480 L293,483 Q300,487 307,482 Q311,478 312,472" stroke="#141414" stroke-width="1.30" fill="none" />
<circle cx="300.6" cy="475.4" r="3.6" stroke="#141414" stroke-width="1.45" fill="none"/>
<circle cx="250.0" cy="472.0" r="2.6" stroke="#141414" stroke-width="2.17" fill="none"/>
<circle cx="275.5" cy="466.5" r="3.0" stroke="#141414" stroke-width="2.17" fill="none"/>
<circle cx="301.0" cy="461.5" r="1.4" stroke="#141414" stroke-width="1.45" fill="none"/>
<rect x="208.0" y="454.0" width="10.0" height="11.0" rx="0" stroke="#141414" stroke-width="1.30" fill="none"/>
<circle cx="219.0" cy="466.0" r="3.0" stroke="#141414" stroke-width="1.30" fill="none"/>
<circle cx="213.0" cy="476.0" r="3.4" stroke="#141414" stroke-width="2.03" fill="none"/>
<line x1="208.0" y1="470.0" x2="215.0" y2="470.0" stroke="#141414" stroke-width="1.16"/>
<rect x="248.5" y="501.9" width="15.0" height="28.3" rx="7" stroke="#141414" stroke-width="1.45" fill="none"/>
<rect x="250.3" y="503.5" width="11.4" height="25.1" rx="5.5" stroke="#141414" stroke-width="1.01" fill="none"/>
<circle cx="256.0" cy="508.0" r="3.0" stroke="#141414" stroke-width="1.45" fill="none"/>
<circle cx="256.0" cy="508.0" r="1.3" stroke="#141414" stroke-width="1.45" fill="none"/>
<rect x="251.0" y="515.0" width="10.0" height="12.0" rx="1" stroke="#141414" stroke-width="1.30" fill="none"/>
<circle cx="275.0" cy="532.0" r="3.2" stroke="#141414" stroke-width="1.45" fill="none"/>
<circle cx="275.0" cy="532.0" r="1.6" stroke="#141414" stroke-width="2.32" fill="none"/>
<circle cx="256.0" cy="541.7" r="4.0" stroke="#141414" stroke-width="1.45" fill="none"/>
<circle cx="256.0" cy="541.7" r="1.8" stroke="#141414" stroke-width="1.30" fill="none"/>
<circle cx="256.0" cy="563.4" r="4.6" stroke="#141414" stroke-width="1.45" fill="none"/>
<circle cx="256.0" cy="563.4" r="2.0" stroke="#141414" stroke-width="1.30" fill="none"/>
<line x1="255.0" y1="545.5" x2="255.0" y2="559.0" stroke="#141414" stroke-width="1.16"/>
<line x1="257.2" y1="545.5" x2="257.2" y2="559.0" stroke="#141414" stroke-width="1.16"/>
<path d="M306,536.4 L306,504 Q306,500 310,500 L334,500 Q337.7,500 337.7,504 L337.7,536.4" stroke="#141414" stroke-width="1.59" fill="none" />
<line x1="308.0" y1="502.5" x2="336.0" y2="502.5" stroke="#141414" stroke-width="1.01"/>
<path d="M306,503 Q296,501 293,506 Q290.5,518 293,526 Q296,531 306,529" stroke="#141414" stroke-width="1.45" fill="none" />
<circle cx="300.3" cy="508.6" r="4.0" stroke="#141414" stroke-width="2.32" fill="none"/>
<circle cx="300.3" cy="508.6" r="1.6" stroke="#141414" stroke-width="1.45" fill="none"/>
<path d="M295.3,539 L303,537.5 L309,542 L337.7,544 M295.3,539 Q294,553 295.3,566 L301,567.5 L305,563 L337.7,561.5" stroke="#141414" stroke-width="1.45" fill="none" />
<circle cx="308.2" cy="555.0" r="6.4" stroke="#141414" stroke-width="1.45" fill="none"/>
<circle cx="299.5" cy="542.2" r="1.6" stroke="#141414" stroke-width="1.30" fill="none"/>
<circle cx="299.5" cy="564.0" r="1.6" stroke="#141414" stroke-width="1.30" fill="none"/>
<line x1="306.0" y1="536.4" x2="337.7" y2="536.4" stroke="#141414" stroke-width="1.45"/>
<path d="M208,500 L216,500 L216,508 L219,510 Q222,514 219,518 L214,518 L214,524 Q222,524 223,531 Q223,538 216,538 L212,538 L208,541" stroke="#141414" stroke-width="1.30" fill="none" />
<circle cx="218.4" cy="532.0" r="2.4" stroke="#141414" stroke-width="1.45" fill="none"/>
<path d="M208,546 L214,544 Q221,547 221,554 Q221,560 215,562 Q219,566 216,570 L208,572" stroke="#141414" stroke-width="1.30" fill="none" />
<circle cx="212.0" cy="556.7" r="2.2" stroke="#141414" stroke-width="1.45" fill="none"/>
<circle cx="212.0" cy="578.0" r="2.2" stroke="#141414" stroke-width="1.45" fill="none"/>
<path d="M208,574 L215,572 L219,577 L221,583 L229,576 Q236,576 236.5,584 Q236,589 231,590.5" stroke="#141414" stroke-width="1.30" fill="none" />
<circle cx="229.0" cy="584.0" r="2.6" stroke="#141414" stroke-width="1.45" fill="none"/>
<rect x="244.0" y="573.5" width="8.9" height="16.5" rx="0" stroke="#141414" stroke-width="1.30" fill="none"/>
<circle cx="248.5" cy="576.5" r="2.6" stroke="#141414" stroke-width="2.32" fill="none"/>
<rect x="333.5" y="573.0" width="6.5" height="17.0" rx="0" stroke="#141414" stroke-width="1.30" fill="none"/>
<circle cx="336.5" cy="576.0" r="2.4" stroke="#141414" stroke-width="2.17" fill="none"/>
<rect x="337.7" y="535.5" width="33.6" height="56.5" rx="0" stroke="#141414" stroke-width="1.59" fill="#fff"/>
<rect x="337.7" y="524.9" width="25.6" height="10.6" rx="0" stroke="#141414" stroke-width="1.45" fill="#fff"/>
<circle cx="353.6" cy="528.6" r="4.0" stroke="#141414" stroke-width="2.32" fill="none"/>
<circle cx="353.6" cy="528.6" r="1.6" stroke="#141414" stroke-width="1.45" fill="none"/>
<rect x="350.5" y="522.5" width="6.0" height="2.5" rx="0" stroke="#141414" stroke-width="1.16" fill="none"/>
<ellipse cx="368.8" cy="528.6" rx="4.6" ry="5.0" stroke="#111" stroke-width="2.61" fill="#333"/>
<line x1="356.5" y1="524.2" x2="393.2" y2="497.6" stroke="#141414" stroke-width="1.45"/>
<line x1="358.7" y1="527.0" x2="395.4" y2="500.6" stroke="#141414" stroke-width="1.45"/>
<path d="M366.8,533.5 L366.8,542 Q367,552.5 378,552.5 L383,552.5 M369.8,533.5 L369.8,541 Q370,549.7 378,549.7 L382,549.7" stroke="#141414" stroke-width="1.45" fill="none" />
<path d="M382.5,552.8 L418.6,518 M380.3,550.6 L416.4,515.5" stroke="#141414" stroke-width="1.45" fill="none" />
<path d="M416.5,516 L416.5,497 M419.6,518 L419.6,497" stroke="#141414" stroke-width="1.30" fill="none" />
<circle cx="418.0" cy="516.5" r="1.6" stroke="#141414" stroke-width="1.30" fill="none"/>
<path d="M381,510.7 L381,562 Q381,569.5 389,569.5 Q397.8,569.5 397.8,562 L397.8,499" stroke="#141414" stroke-width="1.45" fill="none" />
<circle cx="386.5" cy="541.3" r="4.0" stroke="#141414" stroke-width="1.45" fill="none"/>
<circle cx="386.5" cy="541.3" r="1.8" stroke="#141414" stroke-width="1.30" fill="none"/>
<circle cx="386.5" cy="563.0" r="4.0" stroke="#141414" stroke-width="1.45" fill="none"/>
<circle cx="386.5" cy="563.0" r="1.8" stroke="#141414" stroke-width="1.30" fill="none"/>
<line x1="391.0" y1="500.0" x2="391.0" y2="556.0" stroke="#141414" stroke-width="1.16"/>
<line x1="394.4" y1="500.0" x2="394.4" y2="560.0" stroke="#141414" stroke-width="1.16"/>
<rect x="386.0" y="513.0" width="8.0" height="10.0" rx="0" stroke="#141414" stroke-width="1.16" fill="#666"/>
<path d="M384,512 L384,535 M388,523 L392,540" stroke="#141414" stroke-width="1.16" fill="none" />
<line x1="397.8" y1="499.2" x2="465.0" y2="499.2" stroke="#141414" stroke-width="1.45"/>
<circle cx="430.0" cy="541.7" r="4.0" stroke="#141414" stroke-width="1.45" fill="none"/>
<circle cx="430.0" cy="541.7" r="2.0" stroke="#141414" stroke-width="1.30" fill="none"/>
<circle cx="430.0" cy="563.4" r="4.0" stroke="#141414" stroke-width="1.45" fill="none"/>
<circle cx="430.0" cy="563.4" r="2.0" stroke="#141414" stroke-width="1.30" fill="none"/>
<ellipse cx="444.7" cy="539.0" rx="5.6" ry="4.6" stroke="#141414" stroke-width="1.59" fill="none"/>
<ellipse cx="444.7" cy="539.0" rx="3.6" ry="2.8" stroke="#141414" stroke-width="1.30" fill="none"/>
<line x1="443.0" y1="543.5" x2="443.0" y2="576.0" stroke="#141414" stroke-width="1.30"/>
<line x1="446.5" y1="543.5" x2="446.5" y2="576.0" stroke="#141414" stroke-width="1.30"/>
<rect x="439.4" y="578.0" width="8.8" height="12.0" rx="0" stroke="#141414" stroke-width="1.30" fill="none"/>
<ellipse cx="443.8" cy="577.0" rx="3.2" ry="1.6" stroke="#141414" stroke-width="1.89" fill="none"/>
<path d="M478,555.8 L467,555.8 Q461.5,556 461.5,563.5 Q461.5,571.7 467,571.7 L478,571.7" stroke="#141414" stroke-width="1.45" fill="none" />
<path d="M478,558.6 L468,558.6 Q464.3,558.8 464.3,563.7 Q464.3,569 468,569 L478,569" stroke="#141414" stroke-width="1.16" fill="none" />
<path d="M465,500 L465,514 L472,520 L472,536 L468,540 L468,556" stroke="#141414" stroke-width="1.16" fill="none" />
<path d="M461.5,575 L472,575 L472,590 M461.5,575 L461.5,590 M466,580 L472,580" stroke="#141414" stroke-width="1.16" fill="none" />
<line x1="222.8" y1="590.6" x2="495.0" y2="590.6" stroke="#333" stroke-width="1.74"/>
<line x1="233.4" y1="593.0" x2="495.0" y2="593.0" stroke="#8c8c8c" stroke-width="3.19"/>
<line x1="191.6" y1="596.6" x2="497.0" y2="596.6" stroke="#111" stroke-width="2.90"/>
<line x1="196.3" y1="605.4" x2="495.0" y2="605.4" stroke="#141414" stroke-width="1.45"/>
<line x1="196.3" y1="597.0" x2="196.3" y2="609.0" stroke="#141414" stroke-width="1.30"/>
<line x1="206.0" y1="597.0" x2="206.0" y2="620.0" stroke="#141414" stroke-width="1.30"/>
<rect x="215.9" y="597.5" width="5.0" height="10.0" rx="0" stroke="#141414" stroke-width="1.30" fill="none"/>
<rect x="216.6" y="607.5" width="3.6" height="2.0" rx="0" stroke="#141414" stroke-width="1.01" fill="#444"/>
<rect x="238.0" y="597.5" width="5.0" height="10.0" rx="0" stroke="#141414" stroke-width="1.30" fill="none"/>
<rect x="238.7" y="607.5" width="3.6" height="2.0" rx="0" stroke="#141414" stroke-width="1.01" fill="#444"/>
<rect x="281.3" y="597.5" width="5.0" height="10.0" rx="0" stroke="#141414" stroke-width="1.30" fill="none"/>
<rect x="282.0" y="607.5" width="3.6" height="2.0" rx="0" stroke="#141414" stroke-width="1.01" fill="#444"/>
<rect x="325.5" y="597.5" width="5.0" height="10.0" rx="0" stroke="#141414" stroke-width="1.30" fill="none"/>
<rect x="326.2" y="607.5" width="3.6" height="2.0" rx="0" stroke="#141414" stroke-width="1.01" fill="#444"/>
<rect x="374.0" y="597.5" width="5.0" height="10.0" rx="0" stroke="#141414" stroke-width="1.30" fill="none"/>
<rect x="374.7" y="607.5" width="3.6" height="2.0" rx="0" stroke="#141414" stroke-width="1.01" fill="#444"/>
<rect x="412.0" y="597.5" width="5.0" height="10.0" rx="0" stroke="#141414" stroke-width="1.30" fill="none"/>
<rect x="412.7" y="607.5" width="3.6" height="2.0" rx="0" stroke="#141414" stroke-width="1.01" fill="#444"/>
<rect x="453.0" y="597.5" width="5.0" height="10.0" rx="0" stroke="#141414" stroke-width="1.30" fill="none"/>
<rect x="453.7" y="607.5" width="3.6" height="2.0" rx="0" stroke="#141414" stroke-width="1.01" fill="#444"/>
<line x1="212.0" y1="597.5" x2="212.0" y2="605.4" stroke="#141414" stroke-width="1.01"/>
<line x1="234.5" y1="597.5" x2="234.5" y2="605.4" stroke="#141414" stroke-width="1.01"/>
<line x1="246.5" y1="597.5" x2="246.5" y2="605.4" stroke="#141414" stroke-width="1.01"/>
<line x1="277.5" y1="597.5" x2="277.5" y2="605.4" stroke="#141414" stroke-width="1.01"/>
<line x1="290.0" y1="597.5" x2="290.0" y2="605.4" stroke="#141414" stroke-width="1.01"/>
<line x1="322.0" y1="597.5" x2="322.0" y2="605.4" stroke="#141414" stroke-width="1.01"/>
<line x1="334.0" y1="597.5" x2="334.0" y2="605.4" stroke="#141414" stroke-width="1.01"/>
<line x1="370.0" y1="597.5" x2="370.0" y2="605.4" stroke="#141414" stroke-width="1.01"/>
<line x1="383.0" y1="597.5" x2="383.0" y2="605.4" stroke="#141414" stroke-width="1.01"/>
<line x1="408.0" y1="597.5" x2="408.0" y2="605.4" stroke="#141414" stroke-width="1.01"/>
<line x1="421.0" y1="597.5" x2="421.0" y2="605.4" stroke="#141414" stroke-width="1.01"/>
<line x1="449.0" y1="597.5" x2="449.0" y2="605.4" stroke="#141414" stroke-width="1.01"/>
<line x1="462.0" y1="597.5" x2="462.0" y2="605.4" stroke="#141414" stroke-width="1.01"/>
<rect x="261.0" y="589.5" width="2.0" height="1.5" rx="0" stroke="#222" stroke-width="0.87" fill="#222"/>
<rect x="270.0" y="589.5" width="2.0" height="1.5" rx="0" stroke="#222" stroke-width="0.87" fill="#222"/>
<rect x="299.0" y="589.5" width="2.0" height="1.5" rx="0" stroke="#222" stroke-width="0.87" fill="#222"/>
<rect x="347.0" y="589.5" width="2.0" height="1.5" rx="0" stroke="#222" stroke-width="0.87" fill="#222"/>
<rect x="436.0" y="589.5" width="2.0" height="1.5" rx="0" stroke="#222" stroke-width="0.87" fill="#222"/>
<rect x="469.0" y="589.5" width="2.0" height="1.5" rx="0" stroke="#222" stroke-width="0.87" fill="#222"/>
<path d="M206,605.4 L206,619.5 Q207,629 216,630.5 L330,638 Q347,639.6 355,649 Q366,663 380,666.5 L433,669.2 L461.5,667.2 Q476,664 480.5,650 L484.5,606" stroke="#141414" stroke-width="1.59" fill="none" />
<path d="M206,614.2 L326,622.4 Q343,623.8 351.5,633 Q362,646.5 378.4,649.8 L456,658.5 Q472,657 477,645 L480,606" stroke="#141414" stroke-width="1.30" fill="none" />
<rect x="391.2" y="608.5" width="6.2" height="51.5" rx="3.1" stroke="#141414" stroke-width="1.30" fill="none"/>
<rect x="392.7" y="610.0" width="3.2" height="48.5" rx="1.6" stroke="#141414" stroke-width="1.01" fill="none"/>
<rect x="419.1" y="608.5" width="6.2" height="54.3" rx="3.1" stroke="#141414" stroke-width="1.30" fill="none"/>
<rect x="420.6" y="610.0" width="3.2" height="51.3" rx="1.6" stroke="#141414" stroke-width="1.01" fill="none"/>
<rect x="445.9" y="608.5" width="6.2" height="54.3" rx="3.1" stroke="#141414" stroke-width="1.30" fill="none"/>
<rect x="447.4" y="610.0" width="3.2" height="51.3" rx="1.6" stroke="#141414" stroke-width="1.01" fill="none"/>
<circle cx="435.8" cy="647.0" r="5.6" stroke="#111" stroke-width="3.19" fill="none"/>
<line x1="465.0" y1="606.0" x2="465.0" y2="652.0" stroke="#141414" stroke-width="1.16"/>
<line x1="472.0" y1="606.0" x2="472.0" y2="655.0" stroke="#141414" stroke-width="1.16"/>
<line x1="478.3" y1="606.0" x2="478.3" y2="646.0" stroke="#141414" stroke-width="1.16"/>
<rect x="441.5" y="670.0" width="8.0" height="4.5" rx="0" stroke="#141414" stroke-width="1.30" fill="#fff"/>
<line x1="441.5" y1="672.2" x2="449.5" y2="672.2" stroke="#141414" stroke-width="1.01"/>
<path d="M437,669.5 L442,671" stroke="#141414" stroke-width="1.30" fill="none" />
<path d="M470,435.6 L500,435.6 Q504.5,436 504.5,441 L504.5,451" stroke="#141414" stroke-width="1.59" fill="none" />
<line x1="496.6" y1="435.6" x2="496.6" y2="508.4" stroke="#141414" stroke-width="1.45"/>
<rect x="496.6" y="508.4" width="2.2" height="133.6" rx="0" stroke="#111" stroke-width="0.43" fill="#111"/>
<rect x="505.4" y="451.0" width="4.4" height="54.0" rx="0" stroke="#141414" stroke-width="1.45" fill="none"/>
<line x1="507.6" y1="451.0" x2="507.6" y2="505.0" stroke="#141414" stroke-width="1.01"/>
<rect x="501.0" y="442.0" width="2.2" height="12.5" rx="0" stroke="#141414" stroke-width="1.01" fill="none"/>
<rect x="501.0" y="471.3" width="2.2" height="14.1" rx="0" stroke="#141414" stroke-width="1.01" fill="none"/>
<path d="M509.8,473 L542.6,473 L542.6,497.8 L549.6,519 L549.6,640.5" stroke="#141414" stroke-width="1.45" fill="none" />
<line x1="542.6" y1="497.8" x2="542.6" y2="640.5" stroke="#141414" stroke-width="1.30"/>
<circle cx="530.2" cy="473.5" r="4.8" stroke="#141414" stroke-width="1.45" fill="#fff"/>
<path d="M526.5,470.5 l6,6 M521,469 L514.5,469 L514.5,473" stroke="#141414" stroke-width="1.30" fill="none" />
<rect x="516.0" y="466.0" width="5.5" height="6.5" rx="0" stroke="#141414" stroke-width="1.16" fill="none"/>
<rect x="515.0" y="484.5" width="23.0" height="18.5" rx="0" stroke="#141414" stroke-width="1.45" fill="none"/>
<rect x="517.0" y="486.5" width="19.0" height="14.5" rx="0" stroke="#141414" stroke-width="1.16" fill="none"/>
<rect x="520.0" y="489.0" width="13.0" height="9.5" rx="0" stroke="#141414" stroke-width="1.16" fill="none"/>
<rect x="522.5" y="490.5" width="5.0" height="6.5" rx="0" stroke="#141414" stroke-width="1.01" fill="#888"/>
<line x1="528.0" y1="493.5" x2="532.0" y2="493.5" stroke="#141414" stroke-width="2.03"/>
<circle cx="518.5" cy="488.0" r="0.7" stroke="none" stroke-width="0.00" fill="#222"/>
<circle cx="534.5" cy="488.0" r="0.7" stroke="none" stroke-width="0.00" fill="#222"/>
<circle cx="518.5" cy="499.5" r="0.7" stroke="none" stroke-width="0.00" fill="#222"/>
<circle cx="534.5" cy="499.5" r="0.7" stroke="none" stroke-width="0.00" fill="#222"/>
<path d="M513,525 L513,510 Q516,506 522,507.5 L538,507.5 L538,524.3 L520.5,524.3 L520.5,512" stroke="#141414" stroke-width="1.45" fill="none" />
<rect x="523.0" y="510.0" width="12.5" height="14.3" rx="0" stroke="#141414" stroke-width="1.16" fill="none"/>
<circle cx="516.0" cy="516.4" r="5.6" stroke="#141414" stroke-width="1.74" fill="none"/>
<circle cx="516.0" cy="516.4" r="3.3" stroke="#141414" stroke-width="2.03" fill="none"/>
<circle cx="516.0" cy="516.4" r="1.4" stroke="#141414" stroke-width="1.16" fill="none"/>
<rect x="514.0" y="521.0" width="5.0" height="6.0" rx="0" stroke="#141414" stroke-width="1.16" fill="none"/>
<rect x="508.0" y="527.0" width="31.0" height="81.6" rx="0" stroke="#141414" stroke-width="1.59" fill="none"/>
<circle cx="514.3" cy="532.8" r="1.9" stroke="#141414" stroke-width="1.59" fill="none"/>
<circle cx="532.8" cy="532.8" r="1.9" stroke="#141414" stroke-width="1.59" fill="none"/>
<circle cx="514.3" cy="557.0" r="1.9" stroke="#141414" stroke-width="1.59" fill="none"/>
<circle cx="532.8" cy="557.0" r="1.9" stroke="#141414" stroke-width="1.59" fill="none"/>
<circle cx="514.3" cy="578.6" r="1.9" stroke="#141414" stroke-width="1.59" fill="none"/>
<circle cx="532.8" cy="578.6" r="1.9" stroke="#141414" stroke-width="1.59" fill="none"/>
<circle cx="514.3" cy="602.4" r="1.9" stroke="#141414" stroke-width="1.59" fill="none"/>
<circle cx="532.8" cy="602.4" r="1.9" stroke="#141414" stroke-width="1.59" fill="none"/>
<path d="M532.9,548.9 L527.4,554.4 L519.6,554.4 L514.1,548.9 L514.1,541.1 L519.6,535.6 L527.4,535.6 L532.9,541.1Z" stroke="#141414" stroke-width="1.59" fill="none" />
<path d="M531.4,548.3 L526.8,552.9 L520.2,552.9 L515.6,548.3 L515.6,541.7 L520.2,537.1 L526.8,537.1 L531.4,541.7Z" stroke="#141414" stroke-width="1.16" fill="none" />
<rect x="514.0" y="561.5" width="19.0" height="14.3" rx="3" stroke="#141414" stroke-width="1.45" fill="none"/>
<rect x="515.6" y="563.0" width="15.8" height="11.3" rx="2.4" stroke="#141414" stroke-width="1.01" fill="none"/>
<rect x="514.3" y="584.8" width="17.7" height="13.2" rx="3" stroke="#141414" stroke-width="1.45" fill="none"/>
<rect x="515.8" y="586.2" width="14.7" height="10.4" rx="2.4" stroke="#141414" stroke-width="1.01" fill="none"/>
<line x1="508.0" y1="559.5" x2="539.0" y2="559.5" stroke="#141414" stroke-width="1.01"/>
<line x1="508.0" y1="581.0" x2="539.0" y2="581.0" stroke="#141414" stroke-width="1.01"/>
<rect x="539.0" y="566.0" width="4.0" height="6.0" rx="0" stroke="#141414" stroke-width="1.16" fill="none"/>
<line x1="541.0" y1="530.0" x2="541.0" y2="606.0" stroke="#141414" stroke-width="1.01"/>
<rect x="499.4" y="549.0" width="7.8" height="51.0" rx="0" stroke="#141414" stroke-width="1.30" fill="#bbb"/>
<line x1="499.4" y1="556.0" x2="507.2" y2="556.0" stroke="#141414" stroke-width="1.30"/>
<line x1="499.4" y1="566.0" x2="507.2" y2="566.0" stroke="#141414" stroke-width="1.30"/>
<line x1="499.4" y1="576.0" x2="507.2" y2="576.0" stroke="#141414" stroke-width="1.30"/>
<line x1="499.4" y1="586.0" x2="507.2" y2="586.0" stroke="#141414" stroke-width="1.30"/>
<line x1="499.4" y1="594.0" x2="507.2" y2="594.0" stroke="#141414" stroke-width="1.30"/>
<rect x="500.5" y="558.0" width="5.5" height="7.0" rx="0" stroke="#141414" stroke-width="1.16" fill="#333"/>
<rect x="500.5" y="578.0" width="5.5" height="7.0" rx="0" stroke="#141414" stroke-width="1.16" fill="#333"/>
<line x1="503.0" y1="508.4" x2="503.0" y2="549.0" stroke="#141414" stroke-width="1.16"/>
<line x1="507.5" y1="505.0" x2="507.5" y2="527.0" stroke="#141414" stroke-width="1.16"/>
<path d="M508,608.6 L508,616 L514,616 L514,622 L521,622 L524,617 L531,617 L531,611 L539,611" stroke="#141414" stroke-width="1.30" fill="none" />
<path d="M521,622 L521,628 L529,628 L531,625 L541.7,622" stroke="#141414" stroke-width="1.30" fill="none" />
<rect x="530.0" y="611.0" width="6.5" height="7.0" rx="0" stroke="#141414" stroke-width="1.16" fill="none"/>
<ellipse cx="514.3" cy="634.3" rx="8.0" ry="5.0" stroke="#141414" stroke-width="1.74" fill="#fff"/>
<ellipse cx="514.3" cy="634.3" rx="5.0" ry="2.8" stroke="#111" stroke-width="2.32" fill="none"/>
<ellipse cx="514.3" cy="634.3" rx="2.2" ry="1.2" stroke="#141414" stroke-width="1.16" fill="none"/>
<path d="M506.3,634 L505.5,639 L523,639 L522,634" stroke="#141414" stroke-width="1.30" fill="none" />
<rect x="506.3" y="641.0" width="31.7" height="6.5" rx="0" stroke="#141414" stroke-width="1.45" fill="#fff"/>
<rect x="523.0" y="643.0" width="6.0" height="2.0" rx="0" stroke="#141414" stroke-width="0.87" fill="#333"/>
<line x1="499.0" y1="641.0" x2="541.7" y2="641.0" stroke="#141414" stroke-width="1.74"/>
<path d="M541.7,640.5 L541.7,622 M538,641 L538,630 L541.7,628" stroke="#141414" stroke-width="1.16" fill="none" />
<circle cx="545.5" cy="640.0" r="1.8" stroke="#141414" stroke-width="1.30" fill="none"/>
<path d="M499,606 L499,642" stroke="#141414" stroke-width="1.16" fill="none" />
<path d="M484.5,606 L497,606" stroke="#141414" stroke-width="1.16" fill="none" />
<circle cx="775.7" cy="563.4" r="66.5" stroke="#141414" stroke-width="1.89" fill="none"/>
<circle cx="775.7" cy="563.4" r="71.2" stroke="#141414" stroke-width="1.45" fill="none"/>
<circle cx="775.7" cy="563.4" r="73" stroke="#333" stroke-width="2.0" stroke-dasharray="1.3 1.1" fill="none"/>
<circle cx="775.7" cy="563.4" r="74.6" stroke="#141414" stroke-width="1.16" fill="none"/>
<circle cx="775.7" cy="563.4" r="29.0" stroke="#141414" stroke-width="1.74" fill="none"/>
<circle cx="775.7" cy="563.4" r="7.8" stroke="#141414" stroke-width="1.45" fill="none"/>
<circle cx="775.7" cy="563.4" r="6.3" stroke="#141414" stroke-width="1.16" fill="none"/>
<circle cx="775.7" cy="563.4" r="4.4" stroke="#111" stroke-width="2.61" fill="none"/>
<circle cx="775.7" cy="563.4" r="2.2" stroke="#141414" stroke-width="1.16" fill="none"/>
<circle cx="775.7" cy="563.4" r="1.0" stroke="#141414" stroke-width="1.01" fill="none"/>
<circle cx="794.2" cy="571.1" r="2.1" stroke="#111" stroke-width="2.17" fill="none"/>
<circle cx="783.4" cy="581.9" r="2.1" stroke="#111" stroke-width="2.17" fill="none"/>
<circle cx="768.0" cy="581.9" r="2.1" stroke="#111" stroke-width="2.17" fill="none"/>
<circle cx="757.2" cy="571.1" r="2.1" stroke="#111" stroke-width="2.17" fill="none"/>
<circle cx="757.2" cy="555.7" r="2.1" stroke="#111" stroke-width="2.17" fill="none"/>
<circle cx="768.0" cy="544.9" r="2.1" stroke="#111" stroke-width="2.17" fill="none"/>
<circle cx="783.4" cy="544.9" r="2.1" stroke="#111" stroke-width="2.17" fill="none"/>
<circle cx="794.2" cy="555.7" r="2.1" stroke="#111" stroke-width="2.17" fill="none"/>
<circle cx="775.7" cy="543.6" r="1.5" stroke="#555" stroke-width="1.16" fill="none"/>
<rect x="834.4" y="561.7" width="3.4" height="3.4" rx="0.6" stroke="#141414" stroke-width="1.45" fill="none"/>
<rect x="816.7" y="604.4" width="3.4" height="3.4" rx="0.6" stroke="#141414" stroke-width="1.45" fill="none"/>
<rect x="774.0" y="622.1" width="3.4" height="3.4" rx="0.6" stroke="#141414" stroke-width="1.45" fill="none"/>
<rect x="731.3" y="604.4" width="3.4" height="3.4" rx="0.6" stroke="#141414" stroke-width="1.45" fill="none"/>
<rect x="713.6" y="561.7" width="3.4" height="3.4" rx="0.6" stroke="#141414" stroke-width="1.45" fill="none"/>
<rect x="731.3" y="519.0" width="3.4" height="3.4" rx="0.6" stroke="#141414" stroke-width="1.45" fill="none"/>
<rect x="774.0" y="501.3" width="3.4" height="3.4" rx="0.6" stroke="#141414" stroke-width="1.45" fill="none"/>
<rect x="816.7" y="519.0" width="3.4" height="3.4" rx="0.6" stroke="#141414" stroke-width="1.45" fill="none"/>
<circle cx="775.7" cy="525.9" r="0.7" stroke="none" stroke-width="0.00" fill="#666"/>
<circle cx="775.7" cy="601.4" r="0.7" stroke="none" stroke-width="0.00" fill="#666"/>
<circle cx="850.8" cy="583.5" r="1.7" stroke="#222" stroke-width="1.89" fill="#888"/>
<circle cx="830.6" cy="618.3" r="1.7" stroke="#222" stroke-width="1.89" fill="#888"/>
<circle cx="795.8" cy="638.5" r="1.7" stroke="#222" stroke-width="1.89" fill="#888"/>
<circle cx="755.6" cy="638.5" r="1.7" stroke="#222" stroke-width="1.89" fill="#888"/>
<circle cx="720.8" cy="618.3" r="1.7" stroke="#222" stroke-width="1.89" fill="#888"/>
<circle cx="700.6" cy="583.5" r="1.7" stroke="#222" stroke-width="1.89" fill="#888"/>
<circle cx="700.6" cy="543.3" r="1.7" stroke="#222" stroke-width="1.89" fill="#888"/>
<circle cx="720.8" cy="508.5" r="1.7" stroke="#222" stroke-width="1.89" fill="#888"/>
<circle cx="755.6" cy="488.3" r="1.7" stroke="#222" stroke-width="1.89" fill="#888"/>
<circle cx="795.8" cy="488.3" r="1.7" stroke="#222" stroke-width="1.89" fill="#888"/>
<circle cx="830.6" cy="508.5" r="1.7" stroke="#222" stroke-width="1.89" fill="#888"/>
<circle cx="850.8" cy="543.3" r="1.7" stroke="#222" stroke-width="1.89" fill="#888"/>
<path d="M726.4,626.4 A80,80 0 0 1 729.8,497.9" stroke="#222" stroke-width="1.45" fill="none" />
<path d="M853.0,535.3 A82.3,82.3 0 0 1 826.4,628.3" stroke="#222" stroke-width="1.30" fill="none" />
<path d="M821.6,497.9 A80,80 0 0 1 815.7,632.7" stroke="#222" stroke-width="1.30" fill="none" />
<path d="M731.5,500.3 A77,77 0 0 1 765.0,487.1" stroke="#222" stroke-width="1.16" fill="none" />
<path d="M759.7,465.2 L822,465.2 Q846,468 858,492 Q872,512 872.5,524 L872.5,592 Q870,606 858,616 L831.5,643.3 L824.5,636.2" stroke="#141414" stroke-width="1.59" fill="none" />
<path d="M759.7,479.4 L779.5,479.4 L779.5,473.9 L797.5,473.9 L797.5,479.4 L815,479.4 Q836,482 848,502 Q862,520 862.6,532 L862.6,588 Q860,600 850,609 L826.6,632" stroke="#141414" stroke-width="1.45" fill="none" />
<path d="M759.7,465.2 Q754.5,466 754.5,472.3 Q754.5,479 759.7,479.4" stroke="#141414" stroke-width="1.45" fill="none" />
<path d="M763,468.6 Q760,472.5 763,476.5 M763,468.6 L768,468.6 M763,476.5 L768,476.5 M766,472.5 L770,472.5" stroke="#141414" stroke-width="1.16" fill="none" />
<line x1="777.5" y1="469.0" x2="777.5" y2="476.0" stroke="#141414" stroke-width="1.16"/>
<path d="M741,471.4 L754.8,471.4 M741,471.4 L741,477 L733.5,477 L733.5,484 L727,490 L722,500" stroke="#141414" stroke-width="1.30" fill="none" />
<path d="M754.8,479.4 L754.8,483.5 L800,483.5 L800,479.4" stroke="#141414" stroke-width="1.16" fill="none" />
<rect x="754.3" y="486.8" width="2.4" height="2.4" rx="0" stroke="#141414" stroke-width="1.16" fill="#777"/>
<rect x="794.4" y="486.8" width="2.4" height="2.4" rx="0" stroke="#141414" stroke-width="1.16" fill="#777"/>
<path d="M829,638 L833,634 M826,634.5 L838,622 M838,614 l3,4 l2,-5" stroke="#141414" stroke-width="1.01" fill="none" />
<line x1="826.5" y1="630.0" x2="850.0" y2="606.0" stroke="#141414" stroke-width="1.01"/>
<rect x="874.7" y="509.0" width="13.9" height="22.0" rx="0" stroke="#141414" stroke-width="1.45" fill="none"/>
<line x1="890.4" y1="509.0" x2="890.4" y2="531.0" stroke="#141414" stroke-width="1.45"/>
<line x1="886.6" y1="509.0" x2="886.6" y2="531.0" stroke="#141414" stroke-width="1.01"/>
<line x1="874.0" y1="509.0" x2="874.0" y2="564.0" stroke="#141414" stroke-width="1.45"/>
<path d="M872.5,560 Q874.5,562 874,566" stroke="#141414" stroke-width="1.30" fill="none" />
<rect x="866.0" y="500.0" width="8.7" height="9.0" rx="0" stroke="#141414" stroke-width="1.16" fill="none"/>
<path d="M832,505 Q850,503 853,520 L853,524 M836,509 Q847,508 849,521 M840,513 Q845,513 846,521 M846,523 L858,525 M846,526 L858,528" stroke="#141414" stroke-width="1.16" fill="none" />
<path d="M820,480 L826,486 L823,492 L832,498 L829,503 L838,506" stroke="#141414" stroke-width="1.30" fill="none" />
<path d="M823,478 L831,488 M827,492 L836,500" stroke="#333" stroke-width="2.03" fill="none" />
<path d="M685.3,525.3 L695.9,525.3 L703,519 M685.3,525.3 L685.3,607.3 L705,608 M687.8,528 L694,528 L694,538 L690,541 L690,548 L694,548 L694,560 L688,560 M688,572 L694,572 L694,577 M695.9,525.3 L699,532" stroke="#141414" stroke-width="1.30" fill="none" />
<path d="M678.2,555 L678.2,590 Q679,594.6 682,594.6 L685,594.6 M678.2,555 L685,548" stroke="#141414" stroke-width="1.30" fill="none" />
<path d="M666.2,514.7 L672.5,548 Q674,553.5 678.9,553.5 Q683,551 681.5,546 L681.4,518" stroke="#141414" stroke-width="1.30" fill="none" />
<path d="M670,520 L680,545 L677,546 Z" stroke="#111" stroke-width="0.87" fill="#222" />
<circle cx="691.0" cy="543.0" r="2.5" stroke="#141414" stroke-width="1.45" fill="none"/>
<circle cx="701.0" cy="542.0" r="1.5" stroke="#141414" stroke-width="1.45" fill="#777"/>
<path d="M707.9,614.4 L726.3,632.8 L728.5,630.2 L710.4,612Z" stroke="#141414" stroke-width="1.16" fill="none" />
<line x1="711.6" y1="618.1" x2="713.9" y2="615.6" stroke="#141414" stroke-width="1.01"/>
<line x1="715.3" y1="621.8" x2="717.6" y2="619.3" stroke="#141414" stroke-width="1.01"/>
<line x1="718.9" y1="625.4" x2="721.2" y2="622.9" stroke="#141414" stroke-width="1.01"/>
<line x1="722.6" y1="629.1" x2="724.9" y2="626.6" stroke="#141414" stroke-width="1.01"/>
<circle cx="666.6" cy="450.3" r="3.6" stroke="#141414" stroke-width="1.45" fill="none"/>
<circle cx="666.6" cy="450.3" r="1.8" stroke="#222" stroke-width="2.03" fill="#888"/>
<circle cx="691.3" cy="439.2" r="3.6" stroke="#141414" stroke-width="1.45" fill="none"/>
<circle cx="691.3" cy="439.2" r="1.8" stroke="#222" stroke-width="2.03" fill="#888"/>
<circle cx="719.2" cy="447.3" r="3.6" stroke="#141414" stroke-width="1.45" fill="none"/>
<circle cx="719.2" cy="447.3" r="1.8" stroke="#222" stroke-width="2.03" fill="#888"/>
<circle cx="654.8" cy="477.6" r="3.6" stroke="#141414" stroke-width="1.45" fill="none"/>
<circle cx="654.8" cy="477.6" r="1.8" stroke="#222" stroke-width="2.03" fill="#888"/>
<circle cx="662.6" cy="502.3" r="3.6" stroke="#141414" stroke-width="1.45" fill="none"/>
<circle cx="662.6" cy="502.3" r="1.8" stroke="#222" stroke-width="2.03" fill="#888"/>
<circle cx="681.4" cy="516.8" r="3.6" stroke="#141414" stroke-width="1.45" fill="none"/>
<circle cx="681.4" cy="516.8" r="1.8" stroke="#222" stroke-width="2.03" fill="#888"/>
<circle cx="737.7" cy="459.0" r="3.6" stroke="#141414" stroke-width="1.45" fill="none"/>
<circle cx="737.7" cy="459.0" r="1.8" stroke="#222" stroke-width="2.03" fill="#888"/>
<circle cx="737.5" cy="481.5" r="3.6" stroke="#141414" stroke-width="1.45" fill="none"/>
<circle cx="737.5" cy="481.5" r="1.8" stroke="#222" stroke-width="2.03" fill="#888"/>
<circle cx="675.8" cy="437.4" r="2.8" stroke="#141414" stroke-width="1.30" fill="none"/>
<path d="M669.8,448.3 L673.5,440 M678.6,437.8 L687.7,438.6 M694.8,440.2 L715.8,446 M719.5,451 Q716,458 710,461 L704,464" stroke="#141414" stroke-width="1.30" fill="none" />
<path d="M664.5,453.3 L653,471.5 L653.6,474 M655.8,481.2 L661,498.8 M665.3,505 L678.5,514.5 M684.5,518.5 L688,527" stroke="#141414" stroke-width="1.30" fill="none" />
<circle cx="695.2" cy="478.8" r="17.0" stroke="#141414" stroke-width="1.74" fill="none"/>
<circle cx="695.2" cy="478.8" r="11.8" stroke="#141414" stroke-width="1.59" fill="none"/>
<circle cx="695.2" cy="478.8" r="9.8" stroke="#141414" stroke-width="1.30" fill="none"/>
<path d="M698,495.6 L692,512 L695,525" stroke="#141414" stroke-width="1.16" fill="none" />
<path d="M643,457.8 L651,455.3 L655.3,464.5 L652,474 L648,470Z" stroke="#141414" stroke-width="1.30" fill="none" />
<rect x="651.5" y="443.5" width="7.0" height="6.0" rx="0" stroke="#141414" stroke-width="1.45" fill="#fff"/>
<line x1="655.0" y1="443.5" x2="655.0" y2="449.5" stroke="#141414" stroke-width="1.01"/>
<line x1="658.5" y1="446.5" x2="664.0" y2="449.0" stroke="#141414" stroke-width="1.45"/>
<path d="M730,459 A8,8 0 0 0 745.5,459 M732,452 L732,459 M744,452 L744,459" stroke="#141414" stroke-width="1.30" fill="none" />
<path d="M722,500 Q712,505 706.5,523" stroke="#141414" stroke-width="1.30" fill="none" />
<circle cx="741.0" cy="487.0" r="3.8" stroke="#141414" stroke-width="1.30" fill="none"/>
<circle cx="741.0" cy="487.0" r="1.6" stroke="#141414" stroke-width="1.45" fill="none"/>
<path d="M733,495 L728,504 M744,492 L746,482" stroke="#141414" stroke-width="1.16" fill="none" />
<rect x="659.8" y="368.0" width="28.2" height="15.5" rx="0" stroke="#141414" stroke-width="1.45" fill="none"/>
<line x1="659.8" y1="370.5" x2="688.0" y2="370.5" stroke="#141414" stroke-width="1.01"/>
<rect x="658.8" y="383.5" width="30.7" height="3.1" rx="0" stroke="#111" stroke-width="0.58" fill="#111"/>
<rect x="660.5" y="386.6" width="26.1" height="8.4" rx="0" stroke="#141414" stroke-width="1.30" fill="none"/>
<path d="M672,387 l0,3.5 l2,1 l2,-1 l0,-3.5" stroke="#141414" stroke-width="1.01" fill="none" />
<path d="M648.6,411.4 L670.9,402.7 L687,433 L661.6,445.4Z" stroke="#141414" stroke-width="1.45" fill="none" />
<g transform="rotate(-22 665 415)">
<rect x="655.0" y="398.0" width="16.0" height="12.0" rx="0" stroke="#141414" stroke-width="1.45" fill="#8a8a8a"/>
<rect x="657.0" y="400.0" width="12.0" height="8.0" rx="0" stroke="#141414" stroke-width="1.16" fill="#333"/>
<line x1="653.0" y1="413.0" x2="675.0" y2="413.0" stroke="#141414" stroke-width="1.30"/>
<line x1="653.0" y1="417.0" x2="675.0" y2="417.0" stroke="#141414" stroke-width="1.30"/>
<line x1="653.0" y1="421.0" x2="675.0" y2="421.0" stroke="#141414" stroke-width="1.30"/>
<line x1="653.0" y1="425.0" x2="675.0" y2="425.0" stroke="#141414" stroke-width="1.30"/>
<rect x="655.4" y="426.0" width="3.2" height="5.0" rx="0" stroke="#141414" stroke-width="1.01" fill="none"/>
<rect x="660.4" y="426.0" width="3.2" height="5.0" rx="0" stroke="#141414" stroke-width="1.01" fill="none"/>
<rect x="665.4" y="426.0" width="3.2" height="5.0" rx="0" stroke="#141414" stroke-width="1.01" fill="none"/>
<rect x="670.4" y="426.0" width="3.2" height="5.0" rx="0" stroke="#141414" stroke-width="1.01" fill="none"/>
<rect x="655.0" y="411.5" width="18.0" height="12.5" rx="0" stroke="#141414" stroke-width="1.16" fill="none"/>
<rect x="659.0" y="392.0" width="9.0" height="6.0" rx="0" stroke="#141414" stroke-width="1.16" fill="#666"/>
</g>
<circle cx="652.5" cy="414.5" r="0.9" stroke="#141414" stroke-width="1.01" fill="none"/>
<line x1="657.9" y1="393.4" x2="720.4" y2="407.6" stroke="#141414" stroke-width="1.45"/>
<line x1="657.0" y1="396.0" x2="719.5" y2="410.2" stroke="#141414" stroke-width="1.45"/>
<ellipse cx="658.5" cy="393.5" rx="3.2" ry="2.6" stroke="#111" stroke-width="2.03" fill="none"/>
<path d="M672,404 L684,430 M678,402.5 L693,431 M684,401 L700,431" stroke="#141414" stroke-width="1.30" fill="none" />
<path d="M661.6,445.4 L664,450 M687,433 L700,436" stroke="#141414" stroke-width="1.30" fill="none" />
<rect x="694.4" y="383.5" width="3.6" height="37.1" rx="0" stroke="#141414" stroke-width="1.45" fill="none"/>
<rect x="699.4" y="392.8" width="21.0" height="22.9" rx="0" stroke="#141414" stroke-width="1.45" fill="none"/>
<rect x="701.5" y="395.0" width="7.0" height="8.5" rx="0" stroke="#141414" stroke-width="1.74" fill="none"/>
<rect x="710.5" y="392.8" width="7.5" height="8.2" rx="0" stroke="#141414" stroke-width="1.45" fill="none"/>
<rect x="702.0" y="406.0" width="7.0" height="8.0" rx="0" stroke="#141414" stroke-width="1.45" fill="none"/>
<rect x="711.0" y="405.0" width="8.0" height="9.0" rx="0" stroke="#141414" stroke-width="1.89" fill="none"/>
<line x1="694.0" y1="415.7" x2="722.0" y2="415.7" stroke="#141414" stroke-width="2.32"/>
<line x1="690.0" y1="420.6" x2="724.0" y2="420.6" stroke="#141414" stroke-width="1.30"/>
<path d="M700,420.6 L700,436 L724,436 M706,424 L706,436 M712,424 L718,424 L718,436 M724,421.9 L724,445" stroke="#141414" stroke-width="1.30" fill="none" />
<rect x="707.0" y="427.0" width="7.0" height="6.0" rx="0" stroke="#141414" stroke-width="1.16" fill="none"/>
<path d="M718.5,391 Q722,385 729,384.1 L734,384.8 L740.2,389.7 L747,412 L748.2,424.4 L743.9,440.4 L737.7,445.4 L730.3,444.2 L724.1,421.9 L721.6,412 L724.1,400.8 Z" stroke="#141414" stroke-width="1.59" fill="#fff" />
<circle cx="729.7" cy="397.1" r="5.2" stroke="#141414" stroke-width="1.59" fill="none"/>
<path d="M723.5,395.5 l2,1 M733.5,392 l1.5,-1.5" stroke="#141414" stroke-width="1.30" fill="none" />
<line x1="723.5" y1="414.5" x2="745.1" y2="408.9" stroke="#141414" stroke-width="1.30"/>
<line x1="723.5" y1="420.6" x2="747.0" y2="415.0" stroke="#141414" stroke-width="1.30"/>
<circle cx="732.8" cy="427.5" r="1.6" stroke="#222" stroke-width="2.03" fill="#777"/>
<circle cx="736.7" cy="441.0" r="1.6" stroke="#222" stroke-width="2.03" fill="#777"/>
<rect x="735.9" y="365.0" width="24.7" height="5.5" rx="0" stroke="#141414" stroke-width="1.59" fill="#fff"/>
<line x1="740.0" y1="365.0" x2="740.0" y2="370.5" stroke="#141414" stroke-width="1.30"/>
<line x1="746.0" y1="365.0" x2="746.0" y2="370.5" stroke="#141414" stroke-width="1.30"/>
<line x1="752.0" y1="365.0" x2="752.0" y2="370.5" stroke="#141414" stroke-width="1.30"/>
<line x1="756.0" y1="365.0" x2="756.0" y2="370.5" stroke="#141414" stroke-width="1.30"/>
<rect x="738.5" y="370.5" width="19.5" height="2.5" rx="0" stroke="#141414" stroke-width="1.16" fill="none"/>
<path d="M736.2,392 L736.2,373 L803,373 L803,383" stroke="#141414" stroke-width="1.59" fill="none" />
<line x1="724.0" y1="445.4" x2="809.0" y2="445.4" stroke="#111" stroke-width="2.61"/>
<line x1="740.0" y1="386.6" x2="784.5" y2="386.6" stroke="#141414" stroke-width="1.45"/>
<line x1="740.0" y1="389.7" x2="784.5" y2="389.7" stroke="#141414" stroke-width="1.30"/>
<line x1="740.0" y1="393.4" x2="784.5" y2="393.4" stroke="#141414" stroke-width="1.30"/>
<line x1="737.0" y1="379.0" x2="784.5" y2="379.0" stroke="#141414" stroke-width="1.01"/>
<line x1="748.0" y1="398.0" x2="784.5" y2="398.0" stroke="#141414" stroke-width="1.01"/>
<line x1="743.9" y1="374.0" x2="743.9" y2="393.4" stroke="#141414" stroke-width="1.16"/>
<line x1="750.7" y1="374.0" x2="750.7" y2="393.4" stroke="#141414" stroke-width="1.16"/>
<line x1="754.4" y1="374.0" x2="754.4" y2="393.4" stroke="#141414" stroke-width="1.16"/>
<line x1="760.0" y1="374.0" x2="760.0" y2="393.4" stroke="#141414" stroke-width="1.16"/>
<line x1="765.6" y1="374.0" x2="765.6" y2="393.4" stroke="#141414" stroke-width="1.16"/>
<line x1="771.0" y1="374.0" x2="771.0" y2="393.4" stroke="#141414" stroke-width="1.16"/>
<line x1="751.0" y1="393.4" x2="751.0" y2="445.0" stroke="#141414" stroke-width="1.30"/>
<line x1="755.5" y1="393.4" x2="755.5" y2="445.0" stroke="#141414" stroke-width="1.16"/>
<line x1="764.5" y1="400.0" x2="764.5" y2="414.0" stroke="#141414" stroke-width="1.01"/>
<line x1="751.0" y1="410.0" x2="784.5" y2="410.0" stroke="#141414" stroke-width="1.16"/>
<rect x="784.5" y="373.0" width="3.7" height="45.0" rx="0" stroke="#111" stroke-width="0.72" fill="#222"/>
<line x1="790.5" y1="373.0" x2="790.5" y2="418.0" stroke="#141414" stroke-width="1.01"/>
<line x1="798.7" y1="377.0" x2="798.7" y2="410.0" stroke="#141414" stroke-width="1.30"/>
<path d="M788.2,373 L796,373 L798.7,377" stroke="#141414" stroke-width="1.30" fill="none" />
<path d="M784.5,418 L796.8,444 M788.2,418 L800,444 M781,414 L792,444" stroke="#141414" stroke-width="1.45" fill="none" />
<circle cx="783.5" cy="369.5" r="1.6" stroke="#141414" stroke-width="1.30" fill="none"/>
<path d="M764.7,429.3 L764.7,419 Q765,414.5 770,414.5 L773,414.5 Q777,415 777,420 L777,429.3" stroke="#141414" stroke-width="1.45" fill="none" />
<circle cx="770.2" cy="420.6" r="1.5" stroke="#141414" stroke-width="1.89" fill="none"/>
<circle cx="767.7" cy="436.1" r="6.5" stroke="#141414" stroke-width="1.59" fill="none"/>
<circle cx="767.7" cy="436.1" r="4.0" stroke="#141414" stroke-width="1.45" fill="none"/>
<circle cx="781.4" cy="436.1" r="5.5" stroke="#141414" stroke-width="1.45" fill="none"/>
<circle cx="781.4" cy="436.1" r="3.6" stroke="#141414" stroke-width="1.16" fill="none"/>
<path d="M760,432 Q759,442 766,444 M775,430 Q779,428.5 785,431" stroke="#141414" stroke-width="1.16" fill="none" />
<circle cx="801.8" cy="418.2" r="4.4" stroke="#141414" stroke-width="1.59" fill="#fff"/>
<circle cx="801.8" cy="418.2" r="7.6" stroke="#141414" stroke-width="1.45" fill="none"/>
<path d="M795,414 Q792,418 795,423" stroke="#141414" stroke-width="1.30" fill="none" />
<line x1="801.0" y1="426.0" x2="801.0" y2="444.0" stroke="#141414" stroke-width="2.32"/>
<line x1="804.0" y1="426.0" x2="804.0" y2="444.0" stroke="#141414" stroke-width="1.16"/>
<line x1="806.5" y1="426.0" x2="806.5" y2="444.0" stroke="#141414" stroke-width="1.16"/>
<rect x="810.4" y="407.6" width="5.0" height="36.6" rx="0" stroke="#141414" stroke-width="1.45" fill="none"/>
<line x1="812.8" y1="408.0" x2="812.8" y2="444.0" stroke="#141414" stroke-width="0.87"/>
<path d="M815.4,416.3 L840,416.3 Q849.6,417 849.6,426 Q849.6,435 840,435.5 L815.4,435.5" stroke="#141414" stroke-width="1.59" fill="none" />
<path d="M842,417 Q846,426 842,435" stroke="#141414" stroke-width="1.01" fill="none" />
<rect x="803.0" y="382.9" width="19.8" height="20.4" rx="0" stroke="#141414" stroke-width="1.45" fill="none"/>
<rect x="804.8" y="384.8" width="16.2" height="16.7" rx="0" stroke="#141414" stroke-width="1.01" fill="none"/>
<line x1="803.0" y1="405.5" x2="840.0" y2="405.5" stroke="#141414" stroke-width="1.16"/>
<line x1="815.4" y1="409.0" x2="845.0" y2="409.0" stroke="#141414" stroke-width="1.16"/>
<rect x="827.5" y="436.0" width="2.5" height="6.0" rx="0" stroke="#141414" stroke-width="1.01" fill="none"/>
<line x1="815.0" y1="438.5" x2="856.0" y2="438.5" stroke="#141414" stroke-width="1.16"/>
<line x1="815.0" y1="441.5" x2="852.0" y2="441.5" stroke="#141414" stroke-width="1.16"/>
<path d="M724,445.4 L724,452 M728,452 L809,452 M809,445.4 L809,465" stroke="#141414" stroke-width="1.30" fill="none" />
<line x1="745.0" y1="455.5" x2="790.0" y2="455.5" stroke="#141414" stroke-width="1.16"/>
<line x1="785.0" y1="459.5" x2="809.0" y2="459.5" stroke="#141414" stroke-width="2.03"/>
<rect x="785.0" y="452.0" width="15.0" height="5.0" rx="0" stroke="#141414" stroke-width="1.16" fill="none"/>
<path d="M752,449 L758,449 L762,456 L768,453 L771,459 L776,459" stroke="#141414" stroke-width="1.45" fill="none" />
<circle cx="773.5" cy="458.5" r="3.0" stroke="#141414" stroke-width="1.45" fill="none"/>
<line x1="773.5" y1="447.0" x2="773.5" y2="455.0" stroke="#141414" stroke-width="2.32"/>
<circle cx="741.5" cy="449.0" r="1.2" stroke="#141414" stroke-width="1.16" fill="none"/>
<circle cx="806.5" cy="461.5" r="2.6" stroke="#141414" stroke-width="1.30" fill="none"/>
<circle cx="806.5" cy="461.5" r="1.2" stroke="#141414" stroke-width="1.01" fill="none"/>
<path d="M809,452 L828,452 M828,445 L828,468 M836,440 L836,473" stroke="#141414" stroke-width="1.16" fill="none" />
<circle cx="848.5" cy="355.9" r="15.6" stroke="#141414" stroke-width="1.59" fill="#fff"/>
<circle cx="848.5" cy="355.9" r="17.4" stroke="#141414" stroke-width="1.30" fill="none"/>
<circle cx="848.5" cy="355.9" r="19.2" stroke="#141414" stroke-width="2.32" fill="none"/>
<path d="M829.5,340 Q834,326 852,325.6 Q872,326.5 880,343 Q885,357 879,370 Q870,386 852,388.4 Q833,388 823,372 L818,364" stroke="#141414" stroke-width="1.59" fill="none" />
<path d="M832.5,336 Q838,330.5 850,330 Q862,330.5 868,338" stroke="#141414" stroke-width="1.30" fill="none" />
<path d="M866,340.5 L874.5,336.5 L881,353 L872.5,357.5 M869,339 L877.5,355" stroke="#141414" stroke-width="1.30" fill="none" />
<path d="M881,353 L882.5,356 L878,371" stroke="#141414" stroke-width="1.16" fill="none" />
<ellipse cx="835.5" cy="335.5" rx="2.8" ry="2.8" stroke="#141414" stroke-width="1.45" fill="none"/>
<circle cx="835.5" cy="335.5" r="1.2" stroke="#141414" stroke-width="1.16" fill="none"/>
<path d="M801,323.3 L826.6,314.9 L827.5,318 L802,326.5Z" stroke="#141414" stroke-width="1.59" fill="#bbb" />
<line x1="801.5" y1="325.0" x2="827.0" y2="316.5" stroke="#141414" stroke-width="1.01"/>
<path d="M804.5,326.5 L808,334 L814.5,367.5 M827.5,318.5 L827.5,330 L829.5,340 M815,330 L822,364 M820,328.5 L820.5,340 M814.5,367.5 L828,362 L826,350" stroke="#141414" stroke-width="1.45" fill="none" />
<path d="M820.5,340.5 Q813,345 808,354 M823,343 Q816,347 811,356" stroke="#141414" stroke-width="1.59" fill="none" />
<ellipse cx="819.5" cy="341.5" rx="3.0" ry="2.2" stroke="#111" stroke-width="2.32" fill="#444" transform="rotate(-30 819.5 341.5)"/>
<ellipse cx="804.3" cy="358.8" rx="7.0" ry="10.0" stroke="#111" stroke-width="2.32" fill="none" transform="rotate(-25 804.3 358.8)"/>
<ellipse cx="804.3" cy="358.8" rx="4.2" ry="7.0" stroke="#222" stroke-width="1.74" fill="none" transform="rotate(-25 804.3 358.8)"/>
<ellipse cx="804.3" cy="358.8" rx="2.0" ry="3.6" stroke="#222" stroke-width="1.45" fill="#555" transform="rotate(-25 804.3 358.8)"/>
<path d="M799,367 L806,371.5 M810,368 L816,374 L822,376" stroke="#141414" stroke-width="1.30" fill="none" />
<path d="M824.5,396.2 L849.2,392 L850.3,395.5 L826,400.5Z" stroke="#141414" stroke-width="1.45" fill="none" />
<path d="M826,400.5 L828,408 M850.3,395.5 Q853,402 852,412 M846,397 Q849,404 848.5,416 M831,399.6 L833,407" stroke="#141414" stroke-width="1.30" fill="none" />
<path d="M822,380 L826,392 M827,378 L831,391" stroke="#141414" stroke-width="1.30" fill="none" />
<path d="M823.5,385 l4,-2 M825,389 l4,-2" stroke="#141414" stroke-width="1.16" fill="none" />
<g transform="rotate(-28 876.5 472.5)">
<ellipse cx="876.5" cy="472.5" rx="27.0" ry="29.0" stroke="#141414" stroke-width="1.59" fill="#fff"/>
<ellipse cx="873.5" cy="472.5" rx="21.5" ry="25.0" stroke="#141414" stroke-width="1.30" fill="none"/>
<rect x="863.5" y="451.5" width="1.6" height="6.0" rx="0.8" stroke="#141414" stroke-width="1.01" fill="#333"/>
<rect x="866.9" y="451.5" width="1.6" height="6.0" rx="0.8" stroke="#141414" stroke-width="1.01" fill="#333"/>
<rect x="870.3" y="451.5" width="1.6" height="6.0" rx="0.8" stroke="#141414" stroke-width="1.01" fill="#333"/>
<rect x="873.7" y="451.5" width="1.6" height="6.0" rx="0.8" stroke="#141414" stroke-width="1.01" fill="#333"/>
<rect x="877.1" y="451.5" width="1.6" height="6.0" rx="0.8" stroke="#141414" stroke-width="1.01" fill="#333"/>
<rect x="880.5" y="451.5" width="1.6" height="6.0" rx="0.8" stroke="#141414" stroke-width="1.01" fill="#333"/>
<rect x="883.9" y="451.5" width="1.6" height="6.0" rx="0.8" stroke="#141414" stroke-width="1.01" fill="#333"/>
<rect x="856.5" y="461.5" width="6.0" height="1.6" rx="0.8" stroke="#141414" stroke-width="1.01" fill="#333"/>
<rect x="856.5" y="465.1" width="6.0" height="1.6" rx="0.8" stroke="#141414" stroke-width="1.01" fill="#333"/>
<rect x="856.5" y="468.7" width="6.0" height="1.6" rx="0.8" stroke="#141414" stroke-width="1.01" fill="#333"/>
<rect x="856.5" y="472.3" width="6.0" height="1.6" rx="0.8" stroke="#141414" stroke-width="1.01" fill="#333"/>
<rect x="856.5" y="475.9" width="6.0" height="1.6" rx="0.8" stroke="#141414" stroke-width="1.01" fill="#333"/>
<rect x="856.5" y="479.5" width="6.0" height="1.6" rx="0.8" stroke="#141414" stroke-width="1.01" fill="#333"/>
<rect x="872.5" y="487.5" width="1.4" height="6.0" rx="0.8" stroke="#141414" stroke-width="1.01" fill="#333"/>
<rect x="875.7" y="487.5" width="1.4" height="6.0" rx="0.8" stroke="#141414" stroke-width="1.01" fill="#333"/>
<rect x="878.9" y="487.5" width="1.4" height="6.0" rx="0.8" stroke="#141414" stroke-width="1.01" fill="#333"/>
<rect x="882.1" y="487.5" width="1.4" height="6.0" rx="0.8" stroke="#141414" stroke-width="1.01" fill="#333"/>
<rect x="885.5" y="458.5" width="3.5" height="3.5" rx="0" stroke="#141414" stroke-width="1.45" fill="none"/>
<rect x="867.5" y="463.5" width="3.5" height="3.5" rx="0" stroke="#141414" stroke-width="1.45" fill="none"/>
<rect x="867.5" y="480.5" width="3.5" height="3.5" rx="0" stroke="#141414" stroke-width="1.74" fill="none"/>
<circle cx="886.5" cy="474.5" r="2.2" stroke="#141414" stroke-width="1.30" fill="none"/>
<line x1="884.5" y1="474.5" x2="888.5" y2="474.5" stroke="#141414" stroke-width="1.01"/>
<circle cx="872.5" cy="461.5" r="1.4" stroke="#141414" stroke-width="1.30" fill="none"/>
<circle cx="875.9" cy="461.5" r="1.4" stroke="#141414" stroke-width="1.30" fill="none"/>
<circle cx="879.3" cy="461.5" r="1.4" stroke="#141414" stroke-width="1.30" fill="none"/>
<circle cx="882.7" cy="461.5" r="1.4" stroke="#141414" stroke-width="1.30" fill="none"/>
<path d="M897.5,456.5 l3,1 l0,3 l3,2 l-1,3 l3,2 l-1,3 l2,3 l-2,3 l1,3 l-3,3 l0,3 l-3,2" stroke="#141414" stroke-width="2.32" fill="none" />
<path d="M862.5,446.5 l3,-2 l2,2 l3,-2 l2,2 l3,-1 l2,2 l3,-1 l2,2" stroke="#141414" stroke-width="2.03" fill="none" />
<path d="M868.5,500.0 l3,2 l3,-2 l3,2 l3,-3" stroke="#141414" stroke-width="2.03" fill="none" />
<rect x="870.5" y="485.0" width="14.0" height="1.5" rx="0" stroke="#141414" stroke-width="0.72" fill="#444"/>
<rect x="877.5" y="482.5" width="9.0" height="2.0" rx="0" stroke="#141414" stroke-width="0.72" fill="#444"/>
</g>
<circle cx="861.6" cy="440.0" r="3.4" stroke="#111" stroke-width="3.77" fill="#333"/>
<circle cx="861.6" cy="440.0" r="5.4" stroke="#141414" stroke-width="1.30" fill="none"/>
<path d="M857,445 L851,469 M861,446.5 L856,468 M866,443 L880,447.5 M858.5,437 Q846,444 838,455" stroke="#141414" stroke-width="1.30" fill="none" />
<path d="M838,455 L838,468 M842,462 L851,468 L848,480 L840,476Z M846,470 L844,478" stroke="#141414" stroke-width="1.30" fill="none" />
<path d="M851,483 L857,490 M848,486 L854,492 M862,496 L866,500" stroke="#141414" stroke-width="1.74" fill="none" />
<rect x="863.0" y="497.0" width="8.0" height="6.0" rx="0" stroke="#141414" stroke-width="1.16" fill="none"/>
<path d="M843,452 L849,455 L846,470 L840,467Z" stroke="#141414" stroke-width="1.45" fill="#fff" />
<path d="M848,478 L856,486 L852,492 L845,484Z" stroke="#141414" stroke-width="1.45" fill="#666" />
<path d="M838,470 L846,476 M841,464 L849,470" stroke="#141414" stroke-width="1.89" fill="none" />
<path d="M734.8,635.6 L734.8,660 Q735.5,668.8 745,668.8 L813.8,668 Q824.5,667 824.5,656 L824.5,636" stroke="#141414" stroke-width="1.59" fill="none" />
<path d="M737.5,637 L744,640.5 L760,643 M790,644.5 L800,646 L800,648 L790,648" stroke="#141414" stroke-width="1.16" fill="none" />
<rect x="728.4" y="642.0" width="5.0" height="9.9" rx="0" stroke="#141414" stroke-width="1.30" fill="none"/>
<line x1="731.0" y1="642.0" x2="731.0" y2="651.9" stroke="#141414" stroke-width="1.01"/>
<path d="M733.4,637 L733.4,642 M731,632 L734.8,636" stroke="#141414" stroke-width="1.16" fill="none" />
<path d="M776.3,648 L776.3,653 Q779.3,659 782.3,653 L782.3,648 M778,648 L779.3,655.5 L780.6,648" stroke="#141414" stroke-width="1.16" fill="none" />
<line x1="770.0" y1="668.8" x2="789.0" y2="668.8" stroke="#141414" stroke-width="2.32"/>
<rect x="775.0" y="669.5" width="9.0" height="5.0" rx="0" stroke="#141414" stroke-width="1.30" fill="#fff"/>
<line x1="775.0" y1="672.0" x2="784.0" y2="672.0" stroke="#141414" stroke-width="1.01"/>
<path d="M0.2,2.8 L3,0 L3,18 M0.2,18 L5.6,18" transform="translate(424.0 266.8) scale(1.110 1.083)" stroke="#3a3a3a" stroke-width="1.15" fill="none" vector-effect="non-scaling-stroke"/>
<path d="M9.3,0 L1.4,0 L0.8,8 C2,6.9 3.4,6.3 5.2,6.3 C8.2,6.3 9.8,8.6 9.8,12 C9.8,15.6 7.9,18 5,18 C2.6,18 0.8,16.8 0.2,14.8" transform="translate(433.3 266.8) scale(1.110 1.083)" stroke="#3a3a3a" stroke-width="1.15" fill="none" vector-effect="non-scaling-stroke"/>
<path d="M0.2,2.8 L3,0 L3,18 M0.2,18 L5.6,18" transform="translate(534.5 267.0) scale(1.110 1.083)" stroke="#3a3a3a" stroke-width="1.15" fill="none" vector-effect="non-scaling-stroke"/>
<path d="M8.6,0 C4.5,2.2 0.4,6.5 0.4,12.6 C0.4,16 2.4,18 5,18 C7.7,18 9.7,16 9.7,12.8 C9.7,9.6 7.7,7.6 5,7.6 C2.5,7.6 0.5,9.4 0.4,12.6" transform="translate(543.8 267.0) scale(1.110 1.083)" stroke="#3a3a3a" stroke-width="1.15" fill="none" vector-effect="non-scaling-stroke"/>
<path d="M0.2,2.8 L3,0 L3,18 M0.2,18 L5.6,18" transform="translate(591.7 265.4) scale(1.110 1.083)" stroke="#3a3a3a" stroke-width="1.15" fill="none" vector-effect="non-scaling-stroke"/>
<path d="M0,0 L10,0 L3.2,18" transform="translate(601.0 265.4) scale(1.110 1.083)" stroke="#3a3a3a" stroke-width="1.15" fill="none" vector-effect="non-scaling-stroke"/>
<path d="M0.2,2.8 L3,0 L3,18 M0.2,18 L5.6,18" transform="translate(591.7 320.4) scale(1.110 1.083)" stroke="#3a3a3a" stroke-width="1.15" fill="none" vector-effect="non-scaling-stroke"/>
<path d="M5,0 C2.6,0 1,1.7 1,4 C1,6.4 2.6,8 5,8 C7.4,8 9,6.4 9,4 C9,1.7 7.4,0 5,0Z M5,8 C2.2,8 0.2,10 0.2,13 C0.2,16 2.2,18 5,18 C7.8,18 9.8,16 9.8,13 C9.8,10 7.8,8 5,8Z" transform="translate(601.0 320.4) scale(1.110 1.083)" stroke="#3a3a3a" stroke-width="1.15" fill="none" vector-effect="non-scaling-stroke"/>
<path d="M0.2,2.8 L3,0 L3,18 M0.2,18 L5.6,18" transform="translate(591.7 375.3) scale(1.110 1.083)" stroke="#3a3a3a" stroke-width="1.15" fill="none" vector-effect="non-scaling-stroke"/>
<path d="M9.6,5.6 C9.6,8.8 7.6,10.8 5,10.8 C2.4,10.8 0.4,8.8 0.4,5.4 C0.4,2 2.4,0 5,0 C7.6,0 9.6,2 9.6,5.6 L9.6,9 C9.6,13 6.5,16.5 2.4,18" transform="translate(601.0 375.3) scale(1.110 1.083)" stroke="#3a3a3a" stroke-width="1.15" fill="none" vector-effect="non-scaling-stroke"/>
<path d="M0.4,3.6 C0.8,1.2 2.6,0 5,0 C7.6,0 9.6,1.6 9.6,4.4 C9.6,7 8,8.4 5.2,9.2 C1.8,10.2 0.4,11.4 0.4,14 L0.4,18 L10,18" transform="translate(591.7 430.8) scale(1.110 1.083)" stroke="#3a3a3a" stroke-width="1.15" fill="none" vector-effect="non-scaling-stroke"/>
<path d="M3.9,0 C1.5,0 0.2,1.5 0.2,4 L0.2,14 C0.2,16.5 1.5,18 3.9,18 C6.3,18 7.6,16.5 7.6,14 L7.6,4 C7.6,1.5 6.3,0 3.9,0Z" transform="translate(606.5 430.8) scale(1.110 1.083)" stroke="#3a3a3a" stroke-width="1.15" fill="none" vector-effect="non-scaling-stroke"/>
<path d="M0.4,3.6 C0.8,1.2 2.6,0 5,0 C7.6,0 9.6,1.6 9.6,4.4 C9.6,7 8,8.4 5.2,9.2 C1.8,10.2 0.4,11.4 0.4,14 L0.4,18 L10,18" transform="translate(591.7 486.1) scale(1.110 1.083)" stroke="#3a3a3a" stroke-width="1.15" fill="none" vector-effect="non-scaling-stroke"/>
<path d="M0.2,2.8 L3,0 L3,18 M0.2,18 L5.6,18" transform="translate(606.5 486.1) scale(1.110 1.083)" stroke="#3a3a3a" stroke-width="1.15" fill="none" vector-effect="non-scaling-stroke"/>
<path d="M0.4,3.6 C0.8,1.2 2.6,0 5,0 C7.6,0 9.6,1.6 9.6,4.4 C9.6,7 8,8.4 5.2,9.2 C1.8,10.2 0.4,11.4 0.4,14 L0.4,18 L10,18" transform="translate(588.9 543.3) scale(1.110 1.083)" stroke="#3a3a3a" stroke-width="1.15" fill="none" vector-effect="non-scaling-stroke"/>
<path d="M0.4,3.6 C0.8,1.2 2.6,0 5,0 C7.6,0 9.6,1.6 9.6,4.4 C9.6,7 8,8.4 5.2,9.2 C1.8,10.2 0.4,11.4 0.4,14 L0.4,18 L10,18" transform="translate(604.6 543.3) scale(1.110 1.083)" stroke="#3a3a3a" stroke-width="1.15" fill="none" vector-effect="non-scaling-stroke"/>
<path d="M0.4,3.6 C0.8,1.2 2.6,0 5,0 C7.6,0 9.6,1.6 9.6,4.4 C9.6,7 8,8.4 5.2,9.2 C1.8,10.2 0.4,11.4 0.4,14 L0.4,18 L10,18" transform="translate(587.5 575.0) scale(1.110 1.083)" stroke="#3a3a3a" stroke-width="1.15" fill="none" vector-effect="non-scaling-stroke"/>
<path d="M0.5,2.8 C1.2,1 2.8,0 5,0 C7.6,0 9.3,1.6 9.3,4.2 C9.3,6.8 7.4,8.3 4.5,8.3 C7.8,8.3 9.8,10 9.8,13 C9.8,16 7.8,18 5,18 C2.6,18 0.8,16.8 0.2,14.8" transform="translate(601.5 575.0) scale(1.110 1.083)" stroke="#3a3a3a" stroke-width="1.15" fill="none" vector-effect="non-scaling-stroke"/>
<path d="M0.4,3.6 C0.8,1.2 2.6,0 5,0 C7.6,0 9.6,1.6 9.6,4.4 C9.6,7 8,8.4 5.2,9.2 C1.8,10.2 0.4,11.4 0.4,14 L0.4,18 L10,18" transform="translate(591.3 624.2) scale(1.110 1.083)" stroke="#3a3a3a" stroke-width="1.15" fill="none" vector-effect="non-scaling-stroke"/>
<path d="M7.4,18 L7.4,0 L0.2,12.8 L10,12.8" transform="translate(605.8 624.2) scale(1.110 1.083)" stroke="#3a3a3a" stroke-width="1.15" fill="none" vector-effect="non-scaling-stroke"/>
<path d="M0.4,3.6 C0.8,1.2 2.6,0 5,0 C7.6,0 9.6,1.6 9.6,4.4 C9.6,7 8,8.4 5.2,9.2 C1.8,10.2 0.4,11.4 0.4,14 L0.4,18 L10,18" transform="translate(592.5 662.8) scale(1.110 1.083)" stroke="#3a3a3a" stroke-width="1.15" fill="none" vector-effect="non-scaling-stroke"/>
<path d="M9.3,0 L1.4,0 L0.8,8 C2,6.9 3.4,6.3 5.2,6.3 C8.2,6.3 9.8,8.6 9.8,12 C9.8,15.6 7.9,18 5,18 C2.6,18 0.8,16.8 0.2,14.8" transform="translate(607.6 662.8) scale(1.110 1.083)" stroke="#3a3a3a" stroke-width="1.15" fill="none" vector-effect="non-scaling-stroke"/>
<path d="M0.4,3.6 C0.8,1.2 2.6,0 5,0 C7.6,0 9.6,1.6 9.6,4.4 C9.6,7 8,8.4 5.2,9.2 C1.8,10.2 0.4,11.4 0.4,14 L0.4,18 L10,18" transform="translate(592.5 711.2) scale(1.110 1.083)" stroke="#3a3a3a" stroke-width="1.15" fill="none" vector-effect="non-scaling-stroke"/>
<path d="M8.6,0 C4.5,2.2 0.4,6.5 0.4,12.6 C0.4,16 2.4,18 5,18 C7.7,18 9.7,16 9.7,12.8 C9.7,9.6 7.7,7.6 5,7.6 C2.5,7.6 0.5,9.4 0.4,12.6" transform="translate(607.6 711.2) scale(1.110 1.083)" stroke="#3a3a3a" stroke-width="1.15" fill="none" vector-effect="non-scaling-stroke"/>
<line x1="427.0" y1="291.0" x2="231.6" y2="378.2" stroke="#333" stroke-width="1.16"/>
<circle cx="231.6" cy="378.2" r="1.1" stroke="none" stroke-width="0.00" fill="#222"/>
<line x1="538.0" y1="291.8" x2="441.5" y2="388.0" stroke="#333" stroke-width="1.16"/>
<circle cx="441.5" cy="388.0" r="1.1" stroke="none" stroke-width="0.00" fill="#222"/>
<line x1="585.7" y1="289.0" x2="489.7" y2="376.4" stroke="#333" stroke-width="1.16"/>
<circle cx="489.7" cy="376.4" r="1.1" stroke="none" stroke-width="0.00" fill="#222"/>
<line x1="587.4" y1="333.9" x2="498.9" y2="390.2" stroke="#333" stroke-width="1.16"/>
<circle cx="498.9" cy="390.2" r="1.1" stroke="none" stroke-width="0.00" fill="#222"/>
<line x1="615.0" y1="332.8" x2="722.0" y2="395.7" stroke="#333" stroke-width="1.16"/>
<circle cx="722.0" cy="395.7" r="1.1" stroke="none" stroke-width="0.00" fill="#222"/>
<line x1="585.6" y1="388.2" x2="430.5" y2="451.2" stroke="#333" stroke-width="1.16"/>
<circle cx="430.5" cy="451.2" r="1.1" stroke="none" stroke-width="0.00" fill="#222"/>
<line x1="585.9" y1="443.9" x2="397.0" y2="481.0" stroke="#333" stroke-width="1.16"/>
<circle cx="397.0" cy="481.0" r="1.1" stroke="none" stroke-width="0.00" fill="#222"/>
<line x1="586.8" y1="499.6" x2="417.3" y2="517.0" stroke="#333" stroke-width="1.16"/>
<circle cx="417.3" cy="517.0" r="1.1" stroke="none" stroke-width="0.00" fill="#222"/>
<line x1="585.9" y1="552.6" x2="357.0" y2="577.0" stroke="#333" stroke-width="1.16"/>
<circle cx="357.0" cy="577.0" r="1.1" stroke="none" stroke-width="0.00" fill="#222"/>
<line x1="586.0" y1="582.0" x2="462.0" y2="571.5" stroke="#333" stroke-width="1.16"/>
<circle cx="462.0" cy="571.5" r="1.1" stroke="none" stroke-width="0.00" fill="#222"/>
<line x1="590.3" y1="622.8" x2="524.9" y2="591.5" stroke="#333" stroke-width="1.16"/>
<circle cx="524.9" cy="591.5" r="1.1" stroke="none" stroke-width="0.00" fill="#222"/>
<line x1="618.6" y1="626.3" x2="703.0" y2="536.2" stroke="#333" stroke-width="1.16"/>
<circle cx="703.0" cy="536.2" r="1.1" stroke="none" stroke-width="0.00" fill="#222"/>
<line x1="587.7" y1="664.7" x2="466.5" y2="627.2" stroke="#333" stroke-width="1.16"/>
<circle cx="466.5" cy="627.2" r="1.1" stroke="none" stroke-width="0.00" fill="#222"/>
<line x1="588.5" y1="717.4" x2="445.5" y2="673.0" stroke="#333" stroke-width="1.16"/>
<circle cx="445.5" cy="673.0" r="1.1" stroke="none" stroke-width="0.00" fill="#222"/>
</svg>
<svg id="wm1" width="1131" height="1600" viewBox="0 0 1131 1600" style="position:absolute;left:0;top:0;mix-blend-mode:multiply" font-family="Liberation Sans, sans-serif" font-weight="bold" font-size="40px">
<defs><filter id="bl" x="-5%" y="-20%" width="110%" height="140%"><feGaussianBlur stdDeviation="0.8"/></filter></defs>
<g fill="#fff" stroke="#b6b6b6" stroke-width="5" stroke-linejoin="round" paint-order="stroke" filter="url(#bl)">
<text x="333" y="614.5" textLength="467" lengthAdjust="spacingAndGlyphs">Запчасти для двигателей</text>
<text x="428.5" y="663.5" textLength="281.5" lengthAdjust="spacingAndGlyphs">Shanghai diesel</text>
<text x="408" y="713" textLength="315.5" lengthAdjust="spacingAndGlyphs">+7 903 771-44-33</text>
<text x="408" y="763" textLength="311" lengthAdjust="spacingAndGlyphs">+7 925 422-49-91</text>
</g>
</svg>
<svg id="wm2" width="1131" height="1600" viewBox="0 0 1131 1600" style="position:absolute;left:0;top:0" font-family="Liberation Sans, sans-serif" font-size="38px" fill="#b8b8b8" stroke="#b8b8b8" stroke-width="0.6">
<text x="332" y="855.5" textLength="467" lengthAdjust="spacingAndGlyphs">Запчасти для двигателей</text>
<text x="421.5" y="902.6" textLength="286.5" lengthAdjust="spacingAndGlyphs">Shanghai diesel</text>
<text x="405" y="954" textLength="318.5" lengthAdjust="spacingAndGlyphs">+7 903 771-44-33</text>
<text x="405" y="1002.2" textLength="315.5" lengthAdjust="spacingAndGlyphs">+7 925 422-49-91</text>
</svg>


<div class="t b" id="c1" style="left:259px;top:764.7px;">Intake Side View</div>
<div class="t b" id="c2" style="left:700.8px;top:764.7px;">Rear End View</div>

<div class="t p" id="p15" style="left:159px;top:853.4px;">15 Intake pipe</div>
<div class="t p" id="p16" style="left:472px;top:853.4px;">16High pressure fuel pipe</div>
<div class="t p" id="p17" style="left:761px;top:853.4px;">17 Right engine lifting plate</div>
<div class="t p" id="p18" style="left:159px;top:897.7px;">18 Rear engine lifting plate (optional)</div>
<div class="t p" id="p19" style="left:473.3px;top:897.7px;">19 Fuel injection pump (mechanical or electronic governor)</div>
<div class="t p" id="p20" style="left:159px;top:942.2px;">20 Fuel injection pump fuel inlet pipe</div>
<div class="t p" id="p21" style="left:470.6px;top:942.2px;">21 Fuel filter inlet pipe</div>
<div class="t p" id="p22" style="left:758px;top:942.2px;">22 Fuel filter</div>
<div class="t p" id="p23" style="left:159px;top:986.6px;">23 Oil dipstick</div>
<div class="t p" id="p24" style="left:470.6px;top:986.6px;">24 Flywheel housing</div>
<div class="t p" id="p25" style="left:763px;top:986.6px;">25 Oil pan</div>
<div class="t p" id="p26" style="left:159px;top:1031.1px;">26 Oil drain plug</div>

<div class="t p" id="pn" style="left:561px;top:1485.5px;font-family:'Liberation Serif',serif;font-size:18px;">7</div>
</body></html>
